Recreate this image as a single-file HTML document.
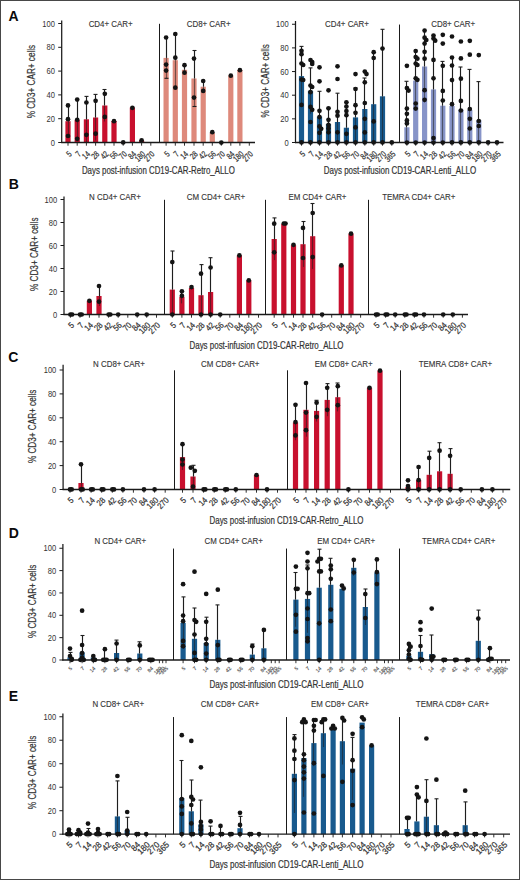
<!DOCTYPE html>
<html><head><meta charset="utf-8"><style>
html,body{margin:0;padding:0;background:#fff;}
#fig{position:relative;width:520px;height:880px;overflow:hidden;background:#fff;}
svg{display:block;font-family:"Liberation Sans", sans-serif;}
</style></head><body><div id="fig">
<svg width="520" height="880" viewBox="0 0 520 880">
<rect x="0" y="0" width="520" height="880" fill="#fff"/>
<g><rect x="65.4" y="121.2" width="5.2" height="21.3" fill="#c8102e"/>
<rect x="74.6" y="120" width="5.2" height="22.5" fill="#c8102e"/>
<rect x="83.8" y="119.3" width="5.2" height="23.2" fill="#c8102e"/>
<rect x="93" y="117.5" width="5.2" height="25" fill="#c8102e"/>
<rect x="102.2" y="105.5" width="5.2" height="37" fill="#c8102e"/>
<rect x="111.4" y="121" width="5.2" height="21.5" fill="#c8102e"/>
<rect x="129.8" y="107.5" width="5.2" height="35" fill="#c8102e"/>
<rect x="139" y="140.7" width="5.2" height="1.8" fill="#c8102e"/>
<rect x="163.5" y="57.9" width="5.2" height="84.6" fill="#de897b"/>
<rect x="172.7" y="60.2" width="5.2" height="82.3" fill="#de897b"/>
<rect x="181.9" y="69.8" width="5.2" height="72.7" fill="#de897b"/>
<rect x="191.4" y="78.5" width="5.2" height="64" fill="#de897b"/>
<rect x="200.6" y="86.7" width="5.2" height="55.8" fill="#de897b"/>
<rect x="209.7" y="133" width="5.2" height="9.5" fill="#de897b"/>
<rect x="228.2" y="75.5" width="5.2" height="67" fill="#de897b"/>
<rect x="237.3" y="70" width="5.2" height="72.5" fill="#de897b"/>
<rect x="298.9" y="76.1" width="5.2" height="66.4" fill="#185a8e"/>
<rect x="307.9" y="90.8" width="5.2" height="51.7" fill="#185a8e"/>
<rect x="316.9" y="116.6" width="5.2" height="25.9" fill="#185a8e"/>
<rect x="325.9" y="124" width="5.2" height="18.5" fill="#185a8e"/>
<rect x="334.9" y="122" width="5.2" height="20.5" fill="#185a8e"/>
<rect x="343.8" y="127.7" width="5.2" height="14.8" fill="#185a8e"/>
<rect x="352.9" y="117.4" width="5.2" height="25.1" fill="#185a8e"/>
<rect x="362.2" y="109" width="5.2" height="33.5" fill="#185a8e"/>
<rect x="371.1" y="104.2" width="5.2" height="38.3" fill="#185a8e"/>
<rect x="379.9" y="96.3" width="5.2" height="46.2" fill="#185a8e"/>
<rect x="404.3" y="127.3" width="5.2" height="15.2" fill="#8794c8"/>
<rect x="413.1" y="80.6" width="5.2" height="61.9" fill="#8794c8"/>
<rect x="422" y="66.5" width="5.2" height="76" fill="#8794c8"/>
<rect x="430.9" y="89.4" width="5.2" height="53.1" fill="#8794c8"/>
<rect x="440.2" y="105.7" width="5.2" height="36.8" fill="#8794c8"/>
<rect x="449.4" y="106" width="5.2" height="36.5" fill="#8794c8"/>
<rect x="458.3" y="109.5" width="5.2" height="33" fill="#8794c8"/>
<rect x="467.2" y="110" width="5.2" height="32.5" fill="#8794c8"/>
<rect x="476.2" y="120.2" width="5.2" height="22.3" fill="#8794c8"/>
<rect x="86.8" y="300.8" width="5.2" height="13.7" fill="#c8102e"/>
<rect x="96.4" y="296" width="5.2" height="18.5" fill="#c8102e"/>
<rect x="169.7" y="289.6" width="5.2" height="24.9" fill="#c8102e"/>
<rect x="179.3" y="296.7" width="5.2" height="17.8" fill="#c8102e"/>
<rect x="188.9" y="288" width="5.2" height="26.5" fill="#c8102e"/>
<rect x="198.4" y="295.2" width="5.2" height="19.3" fill="#c8102e"/>
<rect x="208" y="292" width="5.2" height="22.5" fill="#c8102e"/>
<rect x="236.8" y="255.4" width="5.2" height="59.1" fill="#c8102e"/>
<rect x="246.2" y="280.4" width="5.2" height="34.1" fill="#c8102e"/>
<rect x="271.6" y="239" width="5.2" height="75.5" fill="#c8102e"/>
<rect x="281.2" y="224" width="5.2" height="90.5" fill="#c8102e"/>
<rect x="290.9" y="245.2" width="5.2" height="69.3" fill="#c8102e"/>
<rect x="300.4" y="244.2" width="5.2" height="70.3" fill="#c8102e"/>
<rect x="310.1" y="236.2" width="5.2" height="78.3" fill="#c8102e"/>
<rect x="338.7" y="265.4" width="5.2" height="49.1" fill="#c8102e"/>
<rect x="348.4" y="233.7" width="5.2" height="80.8" fill="#c8102e"/>
<rect x="78.4" y="483" width="5.2" height="6.5" fill="#c8102e"/>
<rect x="179.9" y="457.1" width="5.2" height="32.4" fill="#c8102e"/>
<rect x="190.4" y="476.5" width="5.2" height="13" fill="#c8102e"/>
<rect x="253.9" y="475" width="5.2" height="14.5" fill="#c8102e"/>
<rect x="292.9" y="422.5" width="5.2" height="67" fill="#c8102e"/>
<rect x="303.4" y="409.8" width="5.2" height="79.7" fill="#c8102e"/>
<rect x="314" y="410.9" width="5.2" height="78.6" fill="#c8102e"/>
<rect x="324.6" y="399.9" width="5.2" height="89.6" fill="#c8102e"/>
<rect x="335.2" y="397.2" width="5.2" height="92.3" fill="#c8102e"/>
<rect x="366.9" y="387.8" width="5.2" height="101.7" fill="#c8102e"/>
<rect x="377.4" y="370.7" width="5.2" height="118.8" fill="#c8102e"/>
<rect x="405.4" y="487" width="5.2" height="2.5" fill="#c8102e"/>
<rect x="416" y="480.1" width="5.2" height="9.4" fill="#c8102e"/>
<rect x="426.6" y="474.8" width="5.2" height="14.7" fill="#c8102e"/>
<rect x="437" y="471.3" width="5.2" height="18.2" fill="#c8102e"/>
<rect x="447.5" y="473.8" width="5.2" height="15.7" fill="#c8102e"/>
<rect x="67.4" y="657.3" width="5.2" height="2.7" fill="#185a8e"/>
<rect x="79.5" y="652.4" width="5.2" height="7.6" fill="#185a8e"/>
<rect x="90.7" y="657.5" width="5.2" height="2.5" fill="#185a8e"/>
<rect x="102.3" y="658.5" width="5.2" height="1.5" fill="#185a8e"/>
<rect x="114" y="653" width="5.2" height="7" fill="#185a8e"/>
<rect x="137.2" y="653.5" width="5.2" height="6.5" fill="#185a8e"/>
<rect x="180.5" y="622.9" width="5.2" height="37.1" fill="#185a8e"/>
<rect x="191.9" y="638.8" width="5.2" height="21.2" fill="#185a8e"/>
<rect x="203.6" y="643" width="5.2" height="17" fill="#185a8e"/>
<rect x="215.2" y="639.8" width="5.2" height="20.2" fill="#185a8e"/>
<rect x="249.7" y="654.6" width="5.2" height="5.4" fill="#185a8e"/>
<rect x="261.3" y="648.3" width="5.2" height="11.7" fill="#185a8e"/>
<rect x="293.3" y="599.6" width="5.2" height="60.4" fill="#185a8e"/>
<rect x="304.9" y="598.9" width="5.2" height="61.1" fill="#185a8e"/>
<rect x="316.6" y="587.7" width="5.2" height="72.3" fill="#185a8e"/>
<rect x="328.2" y="584.8" width="5.2" height="75.2" fill="#185a8e"/>
<rect x="339.4" y="588.8" width="5.2" height="71.2" fill="#185a8e"/>
<rect x="351.2" y="567.8" width="5.2" height="92.2" fill="#185a8e"/>
<rect x="362.7" y="607" width="5.2" height="53" fill="#185a8e"/>
<rect x="374.3" y="572.5" width="5.2" height="87.5" fill="#185a8e"/>
<rect x="406.3" y="655.6" width="5.2" height="4.4" fill="#185a8e"/>
<rect x="417.9" y="651.8" width="5.2" height="8.2" fill="#185a8e"/>
<rect x="429.1" y="654.1" width="5.2" height="5.9" fill="#185a8e"/>
<rect x="475.7" y="640.8" width="5.2" height="19.2" fill="#185a8e"/>
<rect x="487.3" y="657.7" width="5.2" height="2.3" fill="#185a8e"/>
<rect x="66.4" y="833" width="5.2" height="1.2" fill="#185a8e"/>
<rect x="75.9" y="833" width="5.2" height="1.2" fill="#185a8e"/>
<rect x="85.4" y="832" width="5.2" height="2.2" fill="#185a8e"/>
<rect x="95.4" y="833" width="5.2" height="1.2" fill="#185a8e"/>
<rect x="114.8" y="816.4" width="5.2" height="17.8" fill="#185a8e"/>
<rect x="124.6" y="830.6" width="5.2" height="3.6" fill="#185a8e"/>
<rect x="179.2" y="798" width="5.2" height="36.2" fill="#185a8e"/>
<rect x="188.7" y="811.3" width="5.2" height="22.9" fill="#185a8e"/>
<rect x="198.3" y="824.4" width="5.2" height="9.8" fill="#185a8e"/>
<rect x="208" y="833" width="5.2" height="1.2" fill="#185a8e"/>
<rect x="237.4" y="828.2" width="5.2" height="6" fill="#185a8e"/>
<rect x="291.8" y="773.8" width="5.2" height="60.4" fill="#185a8e"/>
<rect x="301.3" y="758.1" width="5.2" height="76.1" fill="#185a8e"/>
<rect x="311.3" y="743.1" width="5.2" height="91.1" fill="#185a8e"/>
<rect x="320.8" y="733.2" width="5.2" height="101" fill="#185a8e"/>
<rect x="330.5" y="728.9" width="5.2" height="105.3" fill="#185a8e"/>
<rect x="339.8" y="741.2" width="5.2" height="93" fill="#185a8e"/>
<rect x="350" y="768.7" width="5.2" height="65.5" fill="#185a8e"/>
<rect x="359.5" y="722.6" width="5.2" height="111.6" fill="#185a8e"/>
<rect x="369" y="745.4" width="5.2" height="88.8" fill="#185a8e"/>
<rect x="404.4" y="829" width="5.2" height="5.2" fill="#185a8e"/>
<rect x="414.3" y="821.4" width="5.2" height="12.8" fill="#185a8e"/>
<rect x="423.8" y="816.7" width="5.2" height="17.5" fill="#185a8e"/>
<rect x="433.8" y="825.2" width="5.2" height="9" fill="#185a8e"/>
<rect x="462.6" y="825.2" width="5.2" height="9" fill="#185a8e"/></g>
<g><line x1="68.5" y1="105.4" x2="68.5" y2="121.2" stroke="#1e1e1e" stroke-width="1.15"/>
<line x1="68.5" y1="121.2" x2="68.5" y2="137" stroke="#1e1e1e" stroke-opacity="0.55" stroke-width="1.15"/>
<line x1="77.5" y1="99.6" x2="77.5" y2="120" stroke="#1e1e1e" stroke-width="1.15"/>
<line x1="77.5" y1="120" x2="77.5" y2="140.4" stroke="#1e1e1e" stroke-opacity="0.55" stroke-width="1.15"/>
<line x1="86.5" y1="96.4" x2="86.5" y2="119.3" stroke="#1e1e1e" stroke-width="1.15"/>
<line x1="86.5" y1="119.3" x2="86.5" y2="142.2" stroke="#1e1e1e" stroke-opacity="0.55" stroke-width="1.15"/>
<line x1="84.5" y1="96.4" x2="88.5" y2="96.4" stroke="#1e1e1e" stroke-width="1.1"/>
<line x1="95.5" y1="94.4" x2="95.5" y2="117.5" stroke="#1e1e1e" stroke-width="1.15"/>
<line x1="95.5" y1="117.5" x2="95.5" y2="140.6" stroke="#1e1e1e" stroke-opacity="0.55" stroke-width="1.15"/>
<line x1="93.5" y1="94.4" x2="97.5" y2="94.4" stroke="#1e1e1e" stroke-width="1.1"/>
<line x1="104.5" y1="89.5" x2="104.5" y2="105.5" stroke="#1e1e1e" stroke-width="1.15"/>
<line x1="104.5" y1="105.5" x2="104.5" y2="121.5" stroke="#1e1e1e" stroke-opacity="0.55" stroke-width="1.15"/>
<line x1="102.5" y1="89.5" x2="106.5" y2="89.5" stroke="#1e1e1e" stroke-width="1.1"/>
<line x1="166.5" y1="37.5" x2="166.5" y2="57.9" stroke="#1e1e1e" stroke-width="1.15"/>
<line x1="166.5" y1="57.9" x2="166.5" y2="78.3" stroke="#1e1e1e" stroke-opacity="0.55" stroke-width="1.15"/>
<line x1="164.5" y1="78.3" x2="168.5" y2="78.3" stroke="#1e1e1e" stroke-width="1.1"/>
<line x1="175.5" y1="34" x2="175.5" y2="60.2" stroke="#1e1e1e" stroke-width="1.15"/>
<line x1="175.5" y1="60.2" x2="175.5" y2="86.4" stroke="#1e1e1e" stroke-opacity="0.55" stroke-width="1.15"/>
<line x1="184.5" y1="65.2" x2="184.5" y2="69.8" stroke="#1e1e1e" stroke-width="1.15"/>
<line x1="184.5" y1="69.8" x2="184.5" y2="74.4" stroke="#1e1e1e" stroke-opacity="0.55" stroke-width="1.15"/>
<line x1="194.5" y1="50.5" x2="194.5" y2="78.5" stroke="#1e1e1e" stroke-width="1.15"/>
<line x1="194.5" y1="78.5" x2="194.5" y2="106.5" stroke="#1e1e1e" stroke-opacity="0.55" stroke-width="1.15"/>
<line x1="192.5" y1="50.5" x2="196.5" y2="50.5" stroke="#1e1e1e" stroke-width="1.1"/>
<line x1="192.5" y1="106.5" x2="196.5" y2="106.5" stroke="#1e1e1e" stroke-width="1.1"/>
<line x1="203.5" y1="81" x2="203.5" y2="86.7" stroke="#1e1e1e" stroke-width="1.15"/>
<line x1="203.5" y1="86.7" x2="203.5" y2="92.4" stroke="#1e1e1e" stroke-opacity="0.55" stroke-width="1.15"/>
<line x1="301.5" y1="46.4" x2="301.5" y2="76.1" stroke="#1e1e1e" stroke-width="1.15"/>
<line x1="301.5" y1="76.1" x2="301.5" y2="105.8" stroke="#1e1e1e" stroke-opacity="0.55" stroke-width="1.15"/>
<line x1="299.5" y1="46.4" x2="303.5" y2="46.4" stroke="#1e1e1e" stroke-width="1.1"/>
<line x1="310.5" y1="67.9" x2="310.5" y2="90.8" stroke="#1e1e1e" stroke-width="1.15"/>
<line x1="310.5" y1="90.8" x2="310.5" y2="113.7" stroke="#1e1e1e" stroke-opacity="0.55" stroke-width="1.15"/>
<line x1="308.5" y1="67.9" x2="312.5" y2="67.9" stroke="#1e1e1e" stroke-width="1.1"/>
<line x1="319.5" y1="91.3" x2="319.5" y2="116.6" stroke="#1e1e1e" stroke-width="1.15"/>
<line x1="319.5" y1="116.6" x2="319.5" y2="141.9" stroke="#1e1e1e" stroke-opacity="0.55" stroke-width="1.15"/>
<line x1="317.5" y1="91.3" x2="321.5" y2="91.3" stroke="#1e1e1e" stroke-width="1.1"/>
<line x1="328.5" y1="108" x2="328.5" y2="124" stroke="#1e1e1e" stroke-width="1.15"/>
<line x1="328.5" y1="124" x2="328.5" y2="140" stroke="#1e1e1e" stroke-opacity="0.55" stroke-width="1.15"/>
<line x1="326.5" y1="108" x2="330.5" y2="108" stroke="#1e1e1e" stroke-width="1.1"/>
<line x1="337.5" y1="93.2" x2="337.5" y2="122" stroke="#1e1e1e" stroke-width="1.15"/>
<line x1="337.5" y1="122" x2="337.5" y2="142.5" stroke="#1e1e1e" stroke-opacity="0.55" stroke-width="1.15"/>
<line x1="335.5" y1="93.2" x2="339.5" y2="93.2" stroke="#1e1e1e" stroke-width="1.1"/>
<line x1="346.5" y1="102.3" x2="346.5" y2="127.7" stroke="#1e1e1e" stroke-width="1.15"/>
<line x1="346.5" y1="127.7" x2="346.5" y2="142.5" stroke="#1e1e1e" stroke-opacity="0.55" stroke-width="1.15"/>
<line x1="355.5" y1="88" x2="355.5" y2="117.4" stroke="#1e1e1e" stroke-width="1.15"/>
<line x1="355.5" y1="117.4" x2="355.5" y2="142.5" stroke="#1e1e1e" stroke-opacity="0.55" stroke-width="1.15"/>
<line x1="353.5" y1="88" x2="357.5" y2="88" stroke="#1e1e1e" stroke-width="1.1"/>
<line x1="364.5" y1="78" x2="364.5" y2="109" stroke="#1e1e1e" stroke-width="1.15"/>
<line x1="364.5" y1="109" x2="364.5" y2="140" stroke="#1e1e1e" stroke-opacity="0.55" stroke-width="1.15"/>
<line x1="362.5" y1="78" x2="366.5" y2="78" stroke="#1e1e1e" stroke-width="1.1"/>
<line x1="373.5" y1="52.2" x2="373.5" y2="104.2" stroke="#1e1e1e" stroke-width="1.15"/>
<line x1="373.5" y1="104.2" x2="373.5" y2="142.5" stroke="#1e1e1e" stroke-opacity="0.55" stroke-width="1.15"/>
<line x1="382.5" y1="29.3" x2="382.5" y2="96.3" stroke="#1e1e1e" stroke-width="1.15"/>
<line x1="382.5" y1="96.3" x2="382.5" y2="142.5" stroke="#1e1e1e" stroke-opacity="0.55" stroke-width="1.15"/>
<line x1="380.5" y1="29.3" x2="384.5" y2="29.3" stroke="#1e1e1e" stroke-width="1.1"/>
<line x1="406.5" y1="81.3" x2="406.5" y2="127.3" stroke="#1e1e1e" stroke-width="1.15"/>
<line x1="406.5" y1="127.3" x2="406.5" y2="142.5" stroke="#1e1e1e" stroke-opacity="0.55" stroke-width="1.15"/>
<line x1="404.5" y1="81.3" x2="408.5" y2="81.3" stroke="#1e1e1e" stroke-width="1.1"/>
<line x1="415.5" y1="51" x2="415.5" y2="80.6" stroke="#1e1e1e" stroke-width="1.15"/>
<line x1="415.5" y1="80.6" x2="415.5" y2="110.2" stroke="#1e1e1e" stroke-opacity="0.55" stroke-width="1.15"/>
<line x1="424.5" y1="30.6" x2="424.5" y2="66.5" stroke="#1e1e1e" stroke-width="1.15"/>
<line x1="424.5" y1="66.5" x2="424.5" y2="102.4" stroke="#1e1e1e" stroke-opacity="0.55" stroke-width="1.15"/>
<line x1="433.5" y1="35.5" x2="433.5" y2="89.4" stroke="#1e1e1e" stroke-width="1.15"/>
<line x1="433.5" y1="89.4" x2="433.5" y2="142.5" stroke="#1e1e1e" stroke-opacity="0.55" stroke-width="1.15"/>
<line x1="442.5" y1="61.4" x2="442.5" y2="105.7" stroke="#1e1e1e" stroke-width="1.15"/>
<line x1="442.5" y1="105.7" x2="442.5" y2="142.5" stroke="#1e1e1e" stroke-opacity="0.55" stroke-width="1.15"/>
<line x1="440.5" y1="61.4" x2="444.5" y2="61.4" stroke="#1e1e1e" stroke-width="1.1"/>
<line x1="452.5" y1="57.5" x2="452.5" y2="106" stroke="#1e1e1e" stroke-width="1.15"/>
<line x1="452.5" y1="106" x2="452.5" y2="142.5" stroke="#1e1e1e" stroke-opacity="0.55" stroke-width="1.15"/>
<line x1="460.5" y1="67" x2="460.5" y2="109.5" stroke="#1e1e1e" stroke-width="1.15"/>
<line x1="460.5" y1="109.5" x2="460.5" y2="142.5" stroke="#1e1e1e" stroke-opacity="0.55" stroke-width="1.15"/>
<line x1="458.5" y1="67" x2="462.5" y2="67" stroke="#1e1e1e" stroke-width="1.1"/>
<line x1="469.5" y1="69.4" x2="469.5" y2="110" stroke="#1e1e1e" stroke-width="1.15"/>
<line x1="469.5" y1="110" x2="469.5" y2="142.5" stroke="#1e1e1e" stroke-opacity="0.55" stroke-width="1.15"/>
<line x1="467.5" y1="69.4" x2="471.5" y2="69.4" stroke="#1e1e1e" stroke-width="1.1"/>
<line x1="478.5" y1="81.6" x2="478.5" y2="120.2" stroke="#1e1e1e" stroke-width="1.15"/>
<line x1="478.5" y1="120.2" x2="478.5" y2="142.5" stroke="#1e1e1e" stroke-opacity="0.55" stroke-width="1.15"/>
<line x1="476.5" y1="81.6" x2="480.5" y2="81.6" stroke="#1e1e1e" stroke-width="1.1"/>
<line x1="99.5" y1="286" x2="99.5" y2="296" stroke="#1e1e1e" stroke-width="1.15"/>
<line x1="99.5" y1="296" x2="99.5" y2="306" stroke="#1e1e1e" stroke-opacity="0.55" stroke-width="1.15"/>
<line x1="172.5" y1="251" x2="172.5" y2="289.6" stroke="#1e1e1e" stroke-width="1.15"/>
<line x1="172.5" y1="289.6" x2="172.5" y2="314.5" stroke="#1e1e1e" stroke-opacity="0.55" stroke-width="1.15"/>
<line x1="170.5" y1="251" x2="174.5" y2="251" stroke="#1e1e1e" stroke-width="1.1"/>
<line x1="181.5" y1="290" x2="181.5" y2="296.7" stroke="#1e1e1e" stroke-width="1.15"/>
<line x1="181.5" y1="296.7" x2="181.5" y2="303.4" stroke="#1e1e1e" stroke-opacity="0.55" stroke-width="1.15"/>
<line x1="201.5" y1="264.6" x2="201.5" y2="295.2" stroke="#1e1e1e" stroke-width="1.15"/>
<line x1="201.5" y1="295.2" x2="201.5" y2="314.5" stroke="#1e1e1e" stroke-opacity="0.55" stroke-width="1.15"/>
<line x1="199.5" y1="264.6" x2="203.5" y2="264.6" stroke="#1e1e1e" stroke-width="1.1"/>
<line x1="210.5" y1="257.7" x2="210.5" y2="292" stroke="#1e1e1e" stroke-width="1.15"/>
<line x1="210.5" y1="292" x2="210.5" y2="314.5" stroke="#1e1e1e" stroke-opacity="0.55" stroke-width="1.15"/>
<line x1="208.5" y1="257.7" x2="212.5" y2="257.7" stroke="#1e1e1e" stroke-width="1.1"/>
<line x1="274.5" y1="217.9" x2="274.5" y2="239" stroke="#1e1e1e" stroke-width="1.15"/>
<line x1="274.5" y1="239" x2="274.5" y2="260.1" stroke="#1e1e1e" stroke-opacity="0.55" stroke-width="1.15"/>
<line x1="272.5" y1="217.9" x2="276.5" y2="217.9" stroke="#1e1e1e" stroke-width="1.1"/>
<line x1="303.5" y1="221.5" x2="303.5" y2="244.2" stroke="#1e1e1e" stroke-width="1.15"/>
<line x1="303.5" y1="244.2" x2="303.5" y2="266.9" stroke="#1e1e1e" stroke-opacity="0.55" stroke-width="1.15"/>
<line x1="301.5" y1="221.5" x2="305.5" y2="221.5" stroke="#1e1e1e" stroke-width="1.1"/>
<line x1="312.5" y1="203.5" x2="312.5" y2="236.2" stroke="#1e1e1e" stroke-width="1.15"/>
<line x1="312.5" y1="236.2" x2="312.5" y2="268.9" stroke="#1e1e1e" stroke-opacity="0.55" stroke-width="1.15"/>
<line x1="310.5" y1="203.5" x2="314.5" y2="203.5" stroke="#1e1e1e" stroke-width="1.1"/>
<line x1="81.5" y1="464.3" x2="81.5" y2="483" stroke="#1e1e1e" stroke-width="1.15"/>
<line x1="81.5" y1="483" x2="81.5" y2="489.5" stroke="#1e1e1e" stroke-opacity="0.55" stroke-width="1.15"/>
<line x1="182.5" y1="444.2" x2="182.5" y2="457.1" stroke="#1e1e1e" stroke-width="1.15"/>
<line x1="182.5" y1="457.1" x2="182.5" y2="470" stroke="#1e1e1e" stroke-opacity="0.55" stroke-width="1.15"/>
<line x1="193.5" y1="465.3" x2="193.5" y2="476.5" stroke="#1e1e1e" stroke-width="1.15"/>
<line x1="193.5" y1="476.5" x2="193.5" y2="487.7" stroke="#1e1e1e" stroke-opacity="0.55" stroke-width="1.15"/>
<line x1="191.5" y1="465.3" x2="195.5" y2="465.3" stroke="#1e1e1e" stroke-width="1.1"/>
<line x1="295.5" y1="404.8" x2="295.5" y2="422.5" stroke="#1e1e1e" stroke-width="1.15"/>
<line x1="295.5" y1="422.5" x2="295.5" y2="440.2" stroke="#1e1e1e" stroke-opacity="0.55" stroke-width="1.15"/>
<line x1="306.5" y1="383" x2="306.5" y2="409.8" stroke="#1e1e1e" stroke-width="1.15"/>
<line x1="306.5" y1="409.8" x2="306.5" y2="436.6" stroke="#1e1e1e" stroke-opacity="0.55" stroke-width="1.15"/>
<line x1="316.5" y1="400.3" x2="316.5" y2="410.9" stroke="#1e1e1e" stroke-width="1.15"/>
<line x1="316.5" y1="410.9" x2="316.5" y2="421.5" stroke="#1e1e1e" stroke-opacity="0.55" stroke-width="1.15"/>
<line x1="314.5" y1="400.3" x2="318.5" y2="400.3" stroke="#1e1e1e" stroke-width="1.1"/>
<line x1="327.5" y1="383.6" x2="327.5" y2="399.9" stroke="#1e1e1e" stroke-width="1.15"/>
<line x1="327.5" y1="399.9" x2="327.5" y2="416.2" stroke="#1e1e1e" stroke-opacity="0.55" stroke-width="1.15"/>
<line x1="325.5" y1="383.6" x2="329.5" y2="383.6" stroke="#1e1e1e" stroke-width="1.1"/>
<line x1="337.5" y1="383" x2="337.5" y2="397.2" stroke="#1e1e1e" stroke-width="1.15"/>
<line x1="337.5" y1="397.2" x2="337.5" y2="411.4" stroke="#1e1e1e" stroke-opacity="0.55" stroke-width="1.15"/>
<line x1="335.5" y1="383" x2="339.5" y2="383" stroke="#1e1e1e" stroke-width="1.1"/>
<line x1="418.5" y1="467" x2="418.5" y2="480.1" stroke="#1e1e1e" stroke-width="1.15"/>
<line x1="418.5" y1="480.1" x2="418.5" y2="489.5" stroke="#1e1e1e" stroke-opacity="0.55" stroke-width="1.15"/>
<line x1="429.5" y1="451.2" x2="429.5" y2="474.8" stroke="#1e1e1e" stroke-width="1.15"/>
<line x1="429.5" y1="474.8" x2="429.5" y2="489.5" stroke="#1e1e1e" stroke-opacity="0.55" stroke-width="1.15"/>
<line x1="427.5" y1="451.2" x2="431.5" y2="451.2" stroke="#1e1e1e" stroke-width="1.1"/>
<line x1="439.5" y1="442.7" x2="439.5" y2="471.3" stroke="#1e1e1e" stroke-width="1.15"/>
<line x1="439.5" y1="471.3" x2="439.5" y2="489.5" stroke="#1e1e1e" stroke-opacity="0.55" stroke-width="1.15"/>
<line x1="437.5" y1="442.7" x2="441.5" y2="442.7" stroke="#1e1e1e" stroke-width="1.1"/>
<line x1="450.5" y1="448.6" x2="450.5" y2="473.8" stroke="#1e1e1e" stroke-width="1.15"/>
<line x1="450.5" y1="473.8" x2="450.5" y2="489.5" stroke="#1e1e1e" stroke-opacity="0.55" stroke-width="1.15"/>
<line x1="448.5" y1="448.6" x2="452.5" y2="448.6" stroke="#1e1e1e" stroke-width="1.1"/>
<line x1="70.5" y1="652.4" x2="70.5" y2="657.3" stroke="#1e1e1e" stroke-width="1.15"/>
<line x1="68.5" y1="652.4" x2="72.5" y2="652.4" stroke="#1e1e1e" stroke-width="1.1"/>
<line x1="82.5" y1="635.5" x2="82.5" y2="652.4" stroke="#1e1e1e" stroke-width="1.15"/>
<line x1="82.5" y1="652.4" x2="82.5" y2="660" stroke="#1e1e1e" stroke-opacity="0.55" stroke-width="1.15"/>
<line x1="80.5" y1="635.5" x2="84.5" y2="635.5" stroke="#1e1e1e" stroke-width="1.1"/>
<line x1="104.5" y1="649.2" x2="104.5" y2="658.5" stroke="#1e1e1e" stroke-width="1.15"/>
<line x1="116.5" y1="640.1" x2="116.5" y2="653" stroke="#1e1e1e" stroke-width="1.15"/>
<line x1="116.5" y1="653" x2="116.5" y2="660" stroke="#1e1e1e" stroke-opacity="0.55" stroke-width="1.15"/>
<line x1="114.5" y1="640.1" x2="118.5" y2="640.1" stroke="#1e1e1e" stroke-width="1.1"/>
<line x1="139.5" y1="641.8" x2="139.5" y2="653.5" stroke="#1e1e1e" stroke-width="1.15"/>
<line x1="139.5" y1="653.5" x2="139.5" y2="660" stroke="#1e1e1e" stroke-opacity="0.55" stroke-width="1.15"/>
<line x1="137.5" y1="641.8" x2="141.5" y2="641.8" stroke="#1e1e1e" stroke-width="1.1"/>
<line x1="183.5" y1="596.9" x2="183.5" y2="622.9" stroke="#1e1e1e" stroke-width="1.15"/>
<line x1="183.5" y1="622.9" x2="183.5" y2="648.9" stroke="#1e1e1e" stroke-opacity="0.55" stroke-width="1.15"/>
<line x1="181.5" y1="596.9" x2="185.5" y2="596.9" stroke="#1e1e1e" stroke-width="1.1"/>
<line x1="194.5" y1="608" x2="194.5" y2="638.8" stroke="#1e1e1e" stroke-width="1.15"/>
<line x1="194.5" y1="638.8" x2="194.5" y2="660" stroke="#1e1e1e" stroke-opacity="0.55" stroke-width="1.15"/>
<line x1="192.5" y1="608" x2="196.5" y2="608" stroke="#1e1e1e" stroke-width="1.1"/>
<line x1="206.5" y1="617.2" x2="206.5" y2="643" stroke="#1e1e1e" stroke-width="1.15"/>
<line x1="206.5" y1="643" x2="206.5" y2="660" stroke="#1e1e1e" stroke-opacity="0.55" stroke-width="1.15"/>
<line x1="204.5" y1="617.2" x2="208.5" y2="617.2" stroke="#1e1e1e" stroke-width="1.1"/>
<line x1="217.5" y1="604.9" x2="217.5" y2="639.8" stroke="#1e1e1e" stroke-width="1.15"/>
<line x1="217.5" y1="639.8" x2="217.5" y2="660" stroke="#1e1e1e" stroke-opacity="0.55" stroke-width="1.15"/>
<line x1="215.5" y1="604.9" x2="219.5" y2="604.9" stroke="#1e1e1e" stroke-width="1.1"/>
<line x1="252.5" y1="644" x2="252.5" y2="654.6" stroke="#1e1e1e" stroke-width="1.15"/>
<line x1="252.5" y1="654.6" x2="252.5" y2="660" stroke="#1e1e1e" stroke-opacity="0.55" stroke-width="1.15"/>
<line x1="250.5" y1="644" x2="254.5" y2="644" stroke="#1e1e1e" stroke-width="1.1"/>
<line x1="263.5" y1="629.9" x2="263.5" y2="648.3" stroke="#1e1e1e" stroke-width="1.15"/>
<line x1="263.5" y1="648.3" x2="263.5" y2="660" stroke="#1e1e1e" stroke-opacity="0.55" stroke-width="1.15"/>
<line x1="295.5" y1="572.5" x2="295.5" y2="599.6" stroke="#1e1e1e" stroke-width="1.15"/>
<line x1="295.5" y1="599.6" x2="295.5" y2="626.7" stroke="#1e1e1e" stroke-opacity="0.55" stroke-width="1.15"/>
<line x1="293.5" y1="572.5" x2="297.5" y2="572.5" stroke="#1e1e1e" stroke-width="1.1"/>
<line x1="307.5" y1="565" x2="307.5" y2="598.9" stroke="#1e1e1e" stroke-width="1.15"/>
<line x1="307.5" y1="598.9" x2="307.5" y2="632.8" stroke="#1e1e1e" stroke-opacity="0.55" stroke-width="1.15"/>
<line x1="305.5" y1="565" x2="309.5" y2="565" stroke="#1e1e1e" stroke-width="1.1"/>
<line x1="319.5" y1="549.2" x2="319.5" y2="587.7" stroke="#1e1e1e" stroke-width="1.15"/>
<line x1="319.5" y1="587.7" x2="319.5" y2="626.2" stroke="#1e1e1e" stroke-opacity="0.55" stroke-width="1.15"/>
<line x1="317.5" y1="549.2" x2="321.5" y2="549.2" stroke="#1e1e1e" stroke-width="1.1"/>
<line x1="330.5" y1="558.3" x2="330.5" y2="584.8" stroke="#1e1e1e" stroke-width="1.15"/>
<line x1="330.5" y1="584.8" x2="330.5" y2="611.3" stroke="#1e1e1e" stroke-opacity="0.55" stroke-width="1.15"/>
<line x1="328.5" y1="558.3" x2="332.5" y2="558.3" stroke="#1e1e1e" stroke-width="1.1"/>
<line x1="353.5" y1="559.8" x2="353.5" y2="567.8" stroke="#1e1e1e" stroke-width="1.15"/>
<line x1="353.5" y1="567.8" x2="353.5" y2="575.8" stroke="#1e1e1e" stroke-opacity="0.55" stroke-width="1.15"/>
<line x1="365.5" y1="589" x2="365.5" y2="607" stroke="#1e1e1e" stroke-width="1.15"/>
<line x1="365.5" y1="607" x2="365.5" y2="625" stroke="#1e1e1e" stroke-opacity="0.55" stroke-width="1.15"/>
<line x1="363.5" y1="589" x2="367.5" y2="589" stroke="#1e1e1e" stroke-width="1.1"/>
<line x1="376.5" y1="559.4" x2="376.5" y2="572.5" stroke="#1e1e1e" stroke-width="1.15"/>
<line x1="376.5" y1="572.5" x2="376.5" y2="585.6" stroke="#1e1e1e" stroke-opacity="0.55" stroke-width="1.15"/>
<line x1="408.5" y1="642.9" x2="408.5" y2="655.6" stroke="#1e1e1e" stroke-width="1.15"/>
<line x1="408.5" y1="655.6" x2="408.5" y2="660" stroke="#1e1e1e" stroke-opacity="0.55" stroke-width="1.15"/>
<line x1="420.5" y1="635.5" x2="420.5" y2="651.8" stroke="#1e1e1e" stroke-width="1.15"/>
<line x1="420.5" y1="651.8" x2="420.5" y2="660" stroke="#1e1e1e" stroke-opacity="0.55" stroke-width="1.15"/>
<line x1="418.5" y1="635.5" x2="422.5" y2="635.5" stroke="#1e1e1e" stroke-width="1.1"/>
<line x1="431.5" y1="635" x2="431.5" y2="654.1" stroke="#1e1e1e" stroke-width="1.15"/>
<line x1="431.5" y1="654.1" x2="431.5" y2="660" stroke="#1e1e1e" stroke-opacity="0.55" stroke-width="1.15"/>
<line x1="429.5" y1="635" x2="433.5" y2="635" stroke="#1e1e1e" stroke-width="1.1"/>
<line x1="478.5" y1="610.1" x2="478.5" y2="640.8" stroke="#1e1e1e" stroke-width="1.15"/>
<line x1="478.5" y1="640.8" x2="478.5" y2="660" stroke="#1e1e1e" stroke-opacity="0.55" stroke-width="1.15"/>
<line x1="476.5" y1="610.1" x2="480.5" y2="610.1" stroke="#1e1e1e" stroke-width="1.1"/>
<line x1="489.5" y1="648.2" x2="489.5" y2="657.7" stroke="#1e1e1e" stroke-width="1.15"/>
<line x1="88.5" y1="828.5" x2="88.5" y2="832" stroke="#1e1e1e" stroke-width="1.15"/>
<line x1="86.5" y1="828.5" x2="90.5" y2="828.5" stroke="#1e1e1e" stroke-width="1.1"/>
<line x1="117.5" y1="780.9" x2="117.5" y2="816.4" stroke="#1e1e1e" stroke-width="1.15"/>
<line x1="117.5" y1="816.4" x2="117.5" y2="834.2" stroke="#1e1e1e" stroke-opacity="0.55" stroke-width="1.15"/>
<line x1="115.5" y1="780.9" x2="119.5" y2="780.9" stroke="#1e1e1e" stroke-width="1.1"/>
<line x1="127.5" y1="817.3" x2="127.5" y2="830.6" stroke="#1e1e1e" stroke-width="1.15"/>
<line x1="127.5" y1="830.6" x2="127.5" y2="834.2" stroke="#1e1e1e" stroke-opacity="0.55" stroke-width="1.15"/>
<line x1="125.5" y1="817.3" x2="129.5" y2="817.3" stroke="#1e1e1e" stroke-width="1.1"/>
<line x1="181.5" y1="760.5" x2="181.5" y2="798" stroke="#1e1e1e" stroke-width="1.15"/>
<line x1="181.5" y1="798" x2="181.5" y2="834.2" stroke="#1e1e1e" stroke-opacity="0.55" stroke-width="1.15"/>
<line x1="179.5" y1="760.5" x2="183.5" y2="760.5" stroke="#1e1e1e" stroke-width="1.1"/>
<line x1="191.5" y1="780" x2="191.5" y2="811.3" stroke="#1e1e1e" stroke-width="1.15"/>
<line x1="191.5" y1="811.3" x2="191.5" y2="834.2" stroke="#1e1e1e" stroke-opacity="0.55" stroke-width="1.15"/>
<line x1="189.5" y1="780" x2="193.5" y2="780" stroke="#1e1e1e" stroke-width="1.1"/>
<line x1="200.5" y1="800.1" x2="200.5" y2="824.4" stroke="#1e1e1e" stroke-width="1.15"/>
<line x1="200.5" y1="824.4" x2="200.5" y2="834.2" stroke="#1e1e1e" stroke-opacity="0.55" stroke-width="1.15"/>
<line x1="198.5" y1="800.1" x2="202.5" y2="800.1" stroke="#1e1e1e" stroke-width="1.1"/>
<line x1="210.5" y1="826.1" x2="210.5" y2="833" stroke="#1e1e1e" stroke-width="1.15"/>
<line x1="208.5" y1="826.1" x2="212.5" y2="826.1" stroke="#1e1e1e" stroke-width="1.1"/>
<line x1="220.5" y1="825.9" x2="220.5" y2="834.2" stroke="#1e1e1e" stroke-width="1.15"/>
<line x1="240.5" y1="816.4" x2="240.5" y2="828.2" stroke="#1e1e1e" stroke-width="1.15"/>
<line x1="240.5" y1="828.2" x2="240.5" y2="834.2" stroke="#1e1e1e" stroke-opacity="0.55" stroke-width="1.15"/>
<line x1="238.5" y1="816.4" x2="242.5" y2="816.4" stroke="#1e1e1e" stroke-width="1.1"/>
<line x1="294.5" y1="734.6" x2="294.5" y2="773.8" stroke="#1e1e1e" stroke-width="1.15"/>
<line x1="294.5" y1="773.8" x2="294.5" y2="813" stroke="#1e1e1e" stroke-opacity="0.55" stroke-width="1.15"/>
<line x1="292.5" y1="734.6" x2="296.5" y2="734.6" stroke="#1e1e1e" stroke-width="1.1"/>
<line x1="303.5" y1="719.4" x2="303.5" y2="758.1" stroke="#1e1e1e" stroke-width="1.15"/>
<line x1="303.5" y1="758.1" x2="303.5" y2="796.8" stroke="#1e1e1e" stroke-opacity="0.55" stroke-width="1.15"/>
<line x1="313.5" y1="720" x2="313.5" y2="743.1" stroke="#1e1e1e" stroke-width="1.15"/>
<line x1="313.5" y1="743.1" x2="313.5" y2="766.2" stroke="#1e1e1e" stroke-opacity="0.55" stroke-width="1.15"/>
<line x1="323.5" y1="719.4" x2="323.5" y2="733.2" stroke="#1e1e1e" stroke-width="1.15"/>
<line x1="323.5" y1="733.2" x2="323.5" y2="747" stroke="#1e1e1e" stroke-opacity="0.55" stroke-width="1.15"/>
<line x1="342.5" y1="717.9" x2="342.5" y2="741.2" stroke="#1e1e1e" stroke-width="1.15"/>
<line x1="342.5" y1="741.2" x2="342.5" y2="764.5" stroke="#1e1e1e" stroke-opacity="0.55" stroke-width="1.15"/>
<line x1="352.5" y1="737.4" x2="352.5" y2="768.7" stroke="#1e1e1e" stroke-width="1.15"/>
<line x1="352.5" y1="768.7" x2="352.5" y2="800" stroke="#1e1e1e" stroke-opacity="0.55" stroke-width="1.15"/>
<line x1="350.5" y1="737.4" x2="354.5" y2="737.4" stroke="#1e1e1e" stroke-width="1.1"/>
<line x1="407.5" y1="817.8" x2="407.5" y2="829" stroke="#1e1e1e" stroke-width="1.15"/>
<line x1="416.5" y1="794.5" x2="416.5" y2="821.4" stroke="#1e1e1e" stroke-width="1.15"/>
<line x1="426.5" y1="779.7" x2="426.5" y2="816.7" stroke="#1e1e1e" stroke-width="1.15"/>
<line x1="426.5" y1="816.7" x2="426.5" y2="834.2" stroke="#1e1e1e" stroke-opacity="0.55" stroke-width="1.15"/>
<line x1="424.5" y1="779.7" x2="428.5" y2="779.7" stroke="#1e1e1e" stroke-width="1.1"/>
<line x1="436.5" y1="798.8" x2="436.5" y2="825.2" stroke="#1e1e1e" stroke-width="1.15"/>
<line x1="436.5" y1="825.2" x2="436.5" y2="834.2" stroke="#1e1e1e" stroke-opacity="0.55" stroke-width="1.15"/>
<line x1="434.5" y1="798.8" x2="438.5" y2="798.8" stroke="#1e1e1e" stroke-width="1.1"/>
<line x1="465.5" y1="801.9" x2="465.5" y2="825.2" stroke="#1e1e1e" stroke-width="1.15"/>
<line x1="465.5" y1="825.2" x2="465.5" y2="834.2" stroke="#1e1e1e" stroke-opacity="0.55" stroke-width="1.15"/>
<line x1="463.5" y1="801.9" x2="467.5" y2="801.9" stroke="#1e1e1e" stroke-width="1.1"/></g>
<g><line x1="68" y1="142.5" x2="68" y2="145.7" stroke="#1a1a1a" stroke-width="0.9"/>
<line x1="77.2" y1="142.5" x2="77.2" y2="145.7" stroke="#1a1a1a" stroke-width="0.9"/>
<line x1="86.4" y1="142.5" x2="86.4" y2="145.7" stroke="#1a1a1a" stroke-width="0.9"/>
<line x1="95.6" y1="142.5" x2="95.6" y2="145.7" stroke="#1a1a1a" stroke-width="0.9"/>
<line x1="104.8" y1="142.5" x2="104.8" y2="145.7" stroke="#1a1a1a" stroke-width="0.9"/>
<line x1="114" y1="142.5" x2="114" y2="145.7" stroke="#1a1a1a" stroke-width="0.9"/>
<line x1="123.2" y1="142.5" x2="123.2" y2="145.7" stroke="#1a1a1a" stroke-width="0.9"/>
<line x1="132.4" y1="142.5" x2="132.4" y2="145.7" stroke="#1a1a1a" stroke-width="0.9"/>
<line x1="141.6" y1="142.5" x2="141.6" y2="145.7" stroke="#1a1a1a" stroke-width="0.9"/>
<line x1="150.8" y1="142.5" x2="150.8" y2="145.7" stroke="#1a1a1a" stroke-width="0.9"/>
<line x1="166.1" y1="142.5" x2="166.1" y2="145.7" stroke="#1a1a1a" stroke-width="0.9"/>
<line x1="175.3" y1="142.5" x2="175.3" y2="145.7" stroke="#1a1a1a" stroke-width="0.9"/>
<line x1="184.5" y1="142.5" x2="184.5" y2="145.7" stroke="#1a1a1a" stroke-width="0.9"/>
<line x1="194" y1="142.5" x2="194" y2="145.7" stroke="#1a1a1a" stroke-width="0.9"/>
<line x1="203.2" y1="142.5" x2="203.2" y2="145.7" stroke="#1a1a1a" stroke-width="0.9"/>
<line x1="212.3" y1="142.5" x2="212.3" y2="145.7" stroke="#1a1a1a" stroke-width="0.9"/>
<line x1="221.3" y1="142.5" x2="221.3" y2="145.7" stroke="#1a1a1a" stroke-width="0.9"/>
<line x1="230.8" y1="142.5" x2="230.8" y2="145.7" stroke="#1a1a1a" stroke-width="0.9"/>
<line x1="239.9" y1="142.5" x2="239.9" y2="145.7" stroke="#1a1a1a" stroke-width="0.9"/>
<line x1="249.3" y1="142.5" x2="249.3" y2="145.7" stroke="#1a1a1a" stroke-width="0.9"/>
<line x1="61.7" y1="20.5" x2="61.7" y2="143.1" stroke="#1a1a1a" stroke-width="1.25"/>
<line x1="61.1" y1="142.5" x2="255" y2="142.5" stroke="#1a1a1a" stroke-width="1.3"/>
<line x1="58.2" y1="142.5" x2="61.7" y2="142.5" stroke="#1a1a1a" stroke-width="1"/>
<line x1="58.2" y1="118.7" x2="61.7" y2="118.7" stroke="#1a1a1a" stroke-width="1"/>
<line x1="58.2" y1="94.9" x2="61.7" y2="94.9" stroke="#1a1a1a" stroke-width="1"/>
<line x1="58.2" y1="71.1" x2="61.7" y2="71.1" stroke="#1a1a1a" stroke-width="1"/>
<line x1="58.2" y1="47.3" x2="61.7" y2="47.3" stroke="#1a1a1a" stroke-width="1"/>
<line x1="58.2" y1="23.5" x2="61.7" y2="23.5" stroke="#1a1a1a" stroke-width="1"/>
<line x1="159.5" y1="23.8" x2="159.5" y2="142.5" stroke="#1a1a1a" stroke-width="1.05"/>
<line x1="301.5" y1="142.5" x2="301.5" y2="145.7" stroke="#1a1a1a" stroke-width="0.9"/>
<line x1="310.5" y1="142.5" x2="310.5" y2="145.7" stroke="#1a1a1a" stroke-width="0.9"/>
<line x1="319.5" y1="142.5" x2="319.5" y2="145.7" stroke="#1a1a1a" stroke-width="0.9"/>
<line x1="328.5" y1="142.5" x2="328.5" y2="145.7" stroke="#1a1a1a" stroke-width="0.9"/>
<line x1="337.5" y1="142.5" x2="337.5" y2="145.7" stroke="#1a1a1a" stroke-width="0.9"/>
<line x1="346.4" y1="142.5" x2="346.4" y2="145.7" stroke="#1a1a1a" stroke-width="0.9"/>
<line x1="355.5" y1="142.5" x2="355.5" y2="145.7" stroke="#1a1a1a" stroke-width="0.9"/>
<line x1="364.8" y1="142.5" x2="364.8" y2="145.7" stroke="#1a1a1a" stroke-width="0.9"/>
<line x1="373.7" y1="142.5" x2="373.7" y2="145.7" stroke="#1a1a1a" stroke-width="0.9"/>
<line x1="382.5" y1="142.5" x2="382.5" y2="145.7" stroke="#1a1a1a" stroke-width="0.9"/>
<line x1="391.8" y1="142.5" x2="391.8" y2="145.7" stroke="#1a1a1a" stroke-width="0.9"/>
<line x1="406.9" y1="142.5" x2="406.9" y2="145.7" stroke="#1a1a1a" stroke-width="0.9"/>
<line x1="415.7" y1="142.5" x2="415.7" y2="145.7" stroke="#1a1a1a" stroke-width="0.9"/>
<line x1="424.6" y1="142.5" x2="424.6" y2="145.7" stroke="#1a1a1a" stroke-width="0.9"/>
<line x1="433.5" y1="142.5" x2="433.5" y2="145.7" stroke="#1a1a1a" stroke-width="0.9"/>
<line x1="442.8" y1="142.5" x2="442.8" y2="145.7" stroke="#1a1a1a" stroke-width="0.9"/>
<line x1="452" y1="142.5" x2="452" y2="145.7" stroke="#1a1a1a" stroke-width="0.9"/>
<line x1="460.9" y1="142.5" x2="460.9" y2="145.7" stroke="#1a1a1a" stroke-width="0.9"/>
<line x1="469.8" y1="142.5" x2="469.8" y2="145.7" stroke="#1a1a1a" stroke-width="0.9"/>
<line x1="478.8" y1="142.5" x2="478.8" y2="145.7" stroke="#1a1a1a" stroke-width="0.9"/>
<line x1="488.1" y1="142.5" x2="488.1" y2="145.7" stroke="#1a1a1a" stroke-width="0.9"/>
<line x1="497" y1="142.5" x2="497" y2="145.7" stroke="#1a1a1a" stroke-width="0.9"/>
<line x1="295.5" y1="21" x2="295.5" y2="143.1" stroke="#1a1a1a" stroke-width="1.25"/>
<line x1="294.9" y1="142.5" x2="503.5" y2="142.5" stroke="#1a1a1a" stroke-width="1.3"/>
<line x1="292" y1="142.5" x2="295.5" y2="142.5" stroke="#1a1a1a" stroke-width="1"/>
<line x1="292" y1="118.85" x2="295.5" y2="118.85" stroke="#1a1a1a" stroke-width="1"/>
<line x1="292" y1="95.2" x2="295.5" y2="95.2" stroke="#1a1a1a" stroke-width="1"/>
<line x1="292" y1="71.55" x2="295.5" y2="71.55" stroke="#1a1a1a" stroke-width="1"/>
<line x1="292" y1="47.9" x2="295.5" y2="47.9" stroke="#1a1a1a" stroke-width="1"/>
<line x1="292" y1="24.25" x2="295.5" y2="24.25" stroke="#1a1a1a" stroke-width="1"/>
<line x1="399.5" y1="24.55" x2="399.5" y2="142.5" stroke="#1a1a1a" stroke-width="1.05"/>
<line x1="70.4" y1="314.5" x2="70.4" y2="317.7" stroke="#1a1a1a" stroke-width="0.9"/>
<line x1="80" y1="314.5" x2="80" y2="317.7" stroke="#1a1a1a" stroke-width="0.9"/>
<line x1="89.4" y1="314.5" x2="89.4" y2="317.7" stroke="#1a1a1a" stroke-width="0.9"/>
<line x1="99" y1="314.5" x2="99" y2="317.7" stroke="#1a1a1a" stroke-width="0.9"/>
<line x1="108.6" y1="314.5" x2="108.6" y2="317.7" stroke="#1a1a1a" stroke-width="0.9"/>
<line x1="118.2" y1="314.5" x2="118.2" y2="317.7" stroke="#1a1a1a" stroke-width="0.9"/>
<line x1="127.8" y1="314.5" x2="127.8" y2="317.7" stroke="#1a1a1a" stroke-width="0.9"/>
<line x1="137.2" y1="314.5" x2="137.2" y2="317.7" stroke="#1a1a1a" stroke-width="0.9"/>
<line x1="146.7" y1="314.5" x2="146.7" y2="317.7" stroke="#1a1a1a" stroke-width="0.9"/>
<line x1="156.5" y1="314.5" x2="156.5" y2="317.7" stroke="#1a1a1a" stroke-width="0.9"/>
<line x1="172.3" y1="314.5" x2="172.3" y2="317.7" stroke="#1a1a1a" stroke-width="0.9"/>
<line x1="181.9" y1="314.5" x2="181.9" y2="317.7" stroke="#1a1a1a" stroke-width="0.9"/>
<line x1="191.5" y1="314.5" x2="191.5" y2="317.7" stroke="#1a1a1a" stroke-width="0.9"/>
<line x1="201" y1="314.5" x2="201" y2="317.7" stroke="#1a1a1a" stroke-width="0.9"/>
<line x1="210.6" y1="314.5" x2="210.6" y2="317.7" stroke="#1a1a1a" stroke-width="0.9"/>
<line x1="220.2" y1="314.5" x2="220.2" y2="317.7" stroke="#1a1a1a" stroke-width="0.9"/>
<line x1="229.8" y1="314.5" x2="229.8" y2="317.7" stroke="#1a1a1a" stroke-width="0.9"/>
<line x1="239.4" y1="314.5" x2="239.4" y2="317.7" stroke="#1a1a1a" stroke-width="0.9"/>
<line x1="248.8" y1="314.5" x2="248.8" y2="317.7" stroke="#1a1a1a" stroke-width="0.9"/>
<line x1="258.5" y1="314.5" x2="258.5" y2="317.7" stroke="#1a1a1a" stroke-width="0.9"/>
<line x1="274.2" y1="314.5" x2="274.2" y2="317.7" stroke="#1a1a1a" stroke-width="0.9"/>
<line x1="283.8" y1="314.5" x2="283.8" y2="317.7" stroke="#1a1a1a" stroke-width="0.9"/>
<line x1="293.5" y1="314.5" x2="293.5" y2="317.7" stroke="#1a1a1a" stroke-width="0.9"/>
<line x1="303" y1="314.5" x2="303" y2="317.7" stroke="#1a1a1a" stroke-width="0.9"/>
<line x1="312.7" y1="314.5" x2="312.7" y2="317.7" stroke="#1a1a1a" stroke-width="0.9"/>
<line x1="322.1" y1="314.5" x2="322.1" y2="317.7" stroke="#1a1a1a" stroke-width="0.9"/>
<line x1="331.7" y1="314.5" x2="331.7" y2="317.7" stroke="#1a1a1a" stroke-width="0.9"/>
<line x1="341.3" y1="314.5" x2="341.3" y2="317.7" stroke="#1a1a1a" stroke-width="0.9"/>
<line x1="351" y1="314.5" x2="351" y2="317.7" stroke="#1a1a1a" stroke-width="0.9"/>
<line x1="360.6" y1="314.5" x2="360.6" y2="317.7" stroke="#1a1a1a" stroke-width="0.9"/>
<line x1="376" y1="314.5" x2="376" y2="317.7" stroke="#1a1a1a" stroke-width="0.9"/>
<line x1="385.6" y1="314.5" x2="385.6" y2="317.7" stroke="#1a1a1a" stroke-width="0.9"/>
<line x1="395.2" y1="314.5" x2="395.2" y2="317.7" stroke="#1a1a1a" stroke-width="0.9"/>
<line x1="404.8" y1="314.5" x2="404.8" y2="317.7" stroke="#1a1a1a" stroke-width="0.9"/>
<line x1="414.4" y1="314.5" x2="414.4" y2="317.7" stroke="#1a1a1a" stroke-width="0.9"/>
<line x1="424" y1="314.5" x2="424" y2="317.7" stroke="#1a1a1a" stroke-width="0.9"/>
<line x1="433.6" y1="314.5" x2="433.6" y2="317.7" stroke="#1a1a1a" stroke-width="0.9"/>
<line x1="443.2" y1="314.5" x2="443.2" y2="317.7" stroke="#1a1a1a" stroke-width="0.9"/>
<line x1="452.8" y1="314.5" x2="452.8" y2="317.7" stroke="#1a1a1a" stroke-width="0.9"/>
<line x1="462.4" y1="314.5" x2="462.4" y2="317.7" stroke="#1a1a1a" stroke-width="0.9"/>
<line x1="64" y1="196.5" x2="64" y2="315.1" stroke="#1a1a1a" stroke-width="1.25"/>
<line x1="63.4" y1="314.5" x2="468" y2="314.5" stroke="#1a1a1a" stroke-width="1.3"/>
<line x1="60.5" y1="314.5" x2="64" y2="314.5" stroke="#1a1a1a" stroke-width="1"/>
<line x1="60.5" y1="291.5" x2="64" y2="291.5" stroke="#1a1a1a" stroke-width="1"/>
<line x1="60.5" y1="268.5" x2="64" y2="268.5" stroke="#1a1a1a" stroke-width="1"/>
<line x1="60.5" y1="245.5" x2="64" y2="245.5" stroke="#1a1a1a" stroke-width="1"/>
<line x1="60.5" y1="222.5" x2="64" y2="222.5" stroke="#1a1a1a" stroke-width="1"/>
<line x1="60.5" y1="199.5" x2="64" y2="199.5" stroke="#1a1a1a" stroke-width="1"/>
<line x1="164.5" y1="199.8" x2="164.5" y2="314.5" stroke="#1a1a1a" stroke-width="1.05"/>
<line x1="265.5" y1="199.8" x2="265.5" y2="314.5" stroke="#1a1a1a" stroke-width="1.05"/>
<line x1="368.5" y1="199.8" x2="368.5" y2="314.5" stroke="#1a1a1a" stroke-width="1.05"/>
<line x1="70" y1="489.5" x2="70" y2="492.7" stroke="#1a1a1a" stroke-width="0.9"/>
<line x1="81" y1="489.5" x2="81" y2="492.7" stroke="#1a1a1a" stroke-width="0.9"/>
<line x1="91.1" y1="489.5" x2="91.1" y2="492.7" stroke="#1a1a1a" stroke-width="0.9"/>
<line x1="101.7" y1="489.5" x2="101.7" y2="492.7" stroke="#1a1a1a" stroke-width="0.9"/>
<line x1="112.3" y1="489.5" x2="112.3" y2="492.7" stroke="#1a1a1a" stroke-width="0.9"/>
<line x1="122.9" y1="489.5" x2="122.9" y2="492.7" stroke="#1a1a1a" stroke-width="0.9"/>
<line x1="133.4" y1="489.5" x2="133.4" y2="492.7" stroke="#1a1a1a" stroke-width="0.9"/>
<line x1="144" y1="489.5" x2="144" y2="492.7" stroke="#1a1a1a" stroke-width="0.9"/>
<line x1="154.6" y1="489.5" x2="154.6" y2="492.7" stroke="#1a1a1a" stroke-width="0.9"/>
<line x1="165.2" y1="489.5" x2="165.2" y2="492.7" stroke="#1a1a1a" stroke-width="0.9"/>
<line x1="182.5" y1="489.5" x2="182.5" y2="492.7" stroke="#1a1a1a" stroke-width="0.9"/>
<line x1="193" y1="489.5" x2="193" y2="492.7" stroke="#1a1a1a" stroke-width="0.9"/>
<line x1="203.6" y1="489.5" x2="203.6" y2="492.7" stroke="#1a1a1a" stroke-width="0.9"/>
<line x1="214.2" y1="489.5" x2="214.2" y2="492.7" stroke="#1a1a1a" stroke-width="0.9"/>
<line x1="225.2" y1="489.5" x2="225.2" y2="492.7" stroke="#1a1a1a" stroke-width="0.9"/>
<line x1="235.8" y1="489.5" x2="235.8" y2="492.7" stroke="#1a1a1a" stroke-width="0.9"/>
<line x1="246.2" y1="489.5" x2="246.2" y2="492.7" stroke="#1a1a1a" stroke-width="0.9"/>
<line x1="256.5" y1="489.5" x2="256.5" y2="492.7" stroke="#1a1a1a" stroke-width="0.9"/>
<line x1="267" y1="489.5" x2="267" y2="492.7" stroke="#1a1a1a" stroke-width="0.9"/>
<line x1="277.5" y1="489.5" x2="277.5" y2="492.7" stroke="#1a1a1a" stroke-width="0.9"/>
<line x1="295.5" y1="489.5" x2="295.5" y2="492.7" stroke="#1a1a1a" stroke-width="0.9"/>
<line x1="306" y1="489.5" x2="306" y2="492.7" stroke="#1a1a1a" stroke-width="0.9"/>
<line x1="316.6" y1="489.5" x2="316.6" y2="492.7" stroke="#1a1a1a" stroke-width="0.9"/>
<line x1="327.2" y1="489.5" x2="327.2" y2="492.7" stroke="#1a1a1a" stroke-width="0.9"/>
<line x1="337.8" y1="489.5" x2="337.8" y2="492.7" stroke="#1a1a1a" stroke-width="0.9"/>
<line x1="348.4" y1="489.5" x2="348.4" y2="492.7" stroke="#1a1a1a" stroke-width="0.9"/>
<line x1="358.9" y1="489.5" x2="358.9" y2="492.7" stroke="#1a1a1a" stroke-width="0.9"/>
<line x1="369.5" y1="489.5" x2="369.5" y2="492.7" stroke="#1a1a1a" stroke-width="0.9"/>
<line x1="380" y1="489.5" x2="380" y2="492.7" stroke="#1a1a1a" stroke-width="0.9"/>
<line x1="390.5" y1="489.5" x2="390.5" y2="492.7" stroke="#1a1a1a" stroke-width="0.9"/>
<line x1="408" y1="489.5" x2="408" y2="492.7" stroke="#1a1a1a" stroke-width="0.9"/>
<line x1="418.6" y1="489.5" x2="418.6" y2="492.7" stroke="#1a1a1a" stroke-width="0.9"/>
<line x1="429.2" y1="489.5" x2="429.2" y2="492.7" stroke="#1a1a1a" stroke-width="0.9"/>
<line x1="439.6" y1="489.5" x2="439.6" y2="492.7" stroke="#1a1a1a" stroke-width="0.9"/>
<line x1="450.1" y1="489.5" x2="450.1" y2="492.7" stroke="#1a1a1a" stroke-width="0.9"/>
<line x1="460.7" y1="489.5" x2="460.7" y2="492.7" stroke="#1a1a1a" stroke-width="0.9"/>
<line x1="471.3" y1="489.5" x2="471.3" y2="492.7" stroke="#1a1a1a" stroke-width="0.9"/>
<line x1="481.9" y1="489.5" x2="481.9" y2="492.7" stroke="#1a1a1a" stroke-width="0.9"/>
<line x1="492.4" y1="489.5" x2="492.4" y2="492.7" stroke="#1a1a1a" stroke-width="0.9"/>
<line x1="503" y1="489.5" x2="503" y2="492.7" stroke="#1a1a1a" stroke-width="0.9"/>
<line x1="63.1" y1="364.8" x2="63.1" y2="490.1" stroke="#1a1a1a" stroke-width="1.25"/>
<line x1="62.5" y1="489.5" x2="510.2" y2="489.5" stroke="#1a1a1a" stroke-width="1.3"/>
<line x1="59.6" y1="489.5" x2="63.1" y2="489.5" stroke="#1a1a1a" stroke-width="1"/>
<line x1="59.6" y1="465.6" x2="63.1" y2="465.6" stroke="#1a1a1a" stroke-width="1"/>
<line x1="59.6" y1="441.7" x2="63.1" y2="441.7" stroke="#1a1a1a" stroke-width="1"/>
<line x1="59.6" y1="417.8" x2="63.1" y2="417.8" stroke="#1a1a1a" stroke-width="1"/>
<line x1="59.6" y1="393.9" x2="63.1" y2="393.9" stroke="#1a1a1a" stroke-width="1"/>
<line x1="59.6" y1="370" x2="63.1" y2="370" stroke="#1a1a1a" stroke-width="1"/>
<line x1="174.5" y1="370.3" x2="174.5" y2="489.5" stroke="#1a1a1a" stroke-width="1.05"/>
<line x1="287.5" y1="370.3" x2="287.5" y2="489.5" stroke="#1a1a1a" stroke-width="1.05"/>
<line x1="400.5" y1="370.3" x2="400.5" y2="489.5" stroke="#1a1a1a" stroke-width="1.05"/>
<line x1="70" y1="660" x2="70" y2="663.2" stroke="#1a1a1a" stroke-width="0.9"/>
<line x1="82.1" y1="660" x2="82.1" y2="663.2" stroke="#1a1a1a" stroke-width="0.9"/>
<line x1="93.3" y1="660" x2="93.3" y2="663.2" stroke="#1a1a1a" stroke-width="0.9"/>
<line x1="104.9" y1="660" x2="104.9" y2="663.2" stroke="#1a1a1a" stroke-width="0.9"/>
<line x1="116.6" y1="660" x2="116.6" y2="663.2" stroke="#1a1a1a" stroke-width="0.9"/>
<line x1="128" y1="660" x2="128" y2="663.2" stroke="#1a1a1a" stroke-width="0.9"/>
<line x1="139.8" y1="660" x2="139.8" y2="663.2" stroke="#1a1a1a" stroke-width="0.9"/>
<line x1="150.9" y1="660" x2="150.9" y2="663.2" stroke="#1a1a1a" stroke-width="0.9"/>
<line x1="159.4" y1="660" x2="159.4" y2="663.2" stroke="#1a1a1a" stroke-width="0.9"/>
<line x1="162.7" y1="660" x2="162.7" y2="663.2" stroke="#1a1a1a" stroke-width="0.9"/>
<line x1="166" y1="660" x2="166" y2="663.2" stroke="#1a1a1a" stroke-width="0.9"/>
<line x1="183.1" y1="660" x2="183.1" y2="663.2" stroke="#1a1a1a" stroke-width="0.9"/>
<line x1="194.5" y1="660" x2="194.5" y2="663.2" stroke="#1a1a1a" stroke-width="0.9"/>
<line x1="206.2" y1="660" x2="206.2" y2="663.2" stroke="#1a1a1a" stroke-width="0.9"/>
<line x1="217.8" y1="660" x2="217.8" y2="663.2" stroke="#1a1a1a" stroke-width="0.9"/>
<line x1="229" y1="660" x2="229" y2="663.2" stroke="#1a1a1a" stroke-width="0.9"/>
<line x1="240.8" y1="660" x2="240.8" y2="663.2" stroke="#1a1a1a" stroke-width="0.9"/>
<line x1="252.3" y1="660" x2="252.3" y2="663.2" stroke="#1a1a1a" stroke-width="0.9"/>
<line x1="263.9" y1="660" x2="263.9" y2="663.2" stroke="#1a1a1a" stroke-width="0.9"/>
<line x1="271.3" y1="660" x2="271.3" y2="663.2" stroke="#1a1a1a" stroke-width="0.9"/>
<line x1="275.2" y1="660" x2="275.2" y2="663.2" stroke="#1a1a1a" stroke-width="0.9"/>
<line x1="279.2" y1="660" x2="279.2" y2="663.2" stroke="#1a1a1a" stroke-width="0.9"/>
<line x1="295.9" y1="660" x2="295.9" y2="663.2" stroke="#1a1a1a" stroke-width="0.9"/>
<line x1="307.5" y1="660" x2="307.5" y2="663.2" stroke="#1a1a1a" stroke-width="0.9"/>
<line x1="319.2" y1="660" x2="319.2" y2="663.2" stroke="#1a1a1a" stroke-width="0.9"/>
<line x1="330.8" y1="660" x2="330.8" y2="663.2" stroke="#1a1a1a" stroke-width="0.9"/>
<line x1="342" y1="660" x2="342" y2="663.2" stroke="#1a1a1a" stroke-width="0.9"/>
<line x1="353.8" y1="660" x2="353.8" y2="663.2" stroke="#1a1a1a" stroke-width="0.9"/>
<line x1="365.3" y1="660" x2="365.3" y2="663.2" stroke="#1a1a1a" stroke-width="0.9"/>
<line x1="376.9" y1="660" x2="376.9" y2="663.2" stroke="#1a1a1a" stroke-width="0.9"/>
<line x1="384.5" y1="660" x2="384.5" y2="663.2" stroke="#1a1a1a" stroke-width="0.9"/>
<line x1="388.3" y1="660" x2="388.3" y2="663.2" stroke="#1a1a1a" stroke-width="0.9"/>
<line x1="392.4" y1="660" x2="392.4" y2="663.2" stroke="#1a1a1a" stroke-width="0.9"/>
<line x1="408.9" y1="660" x2="408.9" y2="663.2" stroke="#1a1a1a" stroke-width="0.9"/>
<line x1="420.5" y1="660" x2="420.5" y2="663.2" stroke="#1a1a1a" stroke-width="0.9"/>
<line x1="431.7" y1="660" x2="431.7" y2="663.2" stroke="#1a1a1a" stroke-width="0.9"/>
<line x1="443.4" y1="660" x2="443.4" y2="663.2" stroke="#1a1a1a" stroke-width="0.9"/>
<line x1="455" y1="660" x2="455" y2="663.2" stroke="#1a1a1a" stroke-width="0.9"/>
<line x1="466.6" y1="660" x2="466.6" y2="663.2" stroke="#1a1a1a" stroke-width="0.9"/>
<line x1="478.3" y1="660" x2="478.3" y2="663.2" stroke="#1a1a1a" stroke-width="0.9"/>
<line x1="489.9" y1="660" x2="489.9" y2="663.2" stroke="#1a1a1a" stroke-width="0.9"/>
<line x1="497.5" y1="660" x2="497.5" y2="663.2" stroke="#1a1a1a" stroke-width="0.9"/>
<line x1="501.7" y1="660" x2="501.7" y2="663.2" stroke="#1a1a1a" stroke-width="0.9"/>
<line x1="505.7" y1="660" x2="505.7" y2="663.2" stroke="#1a1a1a" stroke-width="0.9"/>
<line x1="62.9" y1="543.9" x2="62.9" y2="660.6" stroke="#1a1a1a" stroke-width="1.25"/>
<line x1="62.3" y1="660" x2="510" y2="660" stroke="#1a1a1a" stroke-width="1.3"/>
<line x1="59.4" y1="660" x2="62.9" y2="660" stroke="#1a1a1a" stroke-width="1"/>
<line x1="59.4" y1="637.65" x2="62.9" y2="637.65" stroke="#1a1a1a" stroke-width="1"/>
<line x1="59.4" y1="615.3" x2="62.9" y2="615.3" stroke="#1a1a1a" stroke-width="1"/>
<line x1="59.4" y1="592.95" x2="62.9" y2="592.95" stroke="#1a1a1a" stroke-width="1"/>
<line x1="59.4" y1="570.6" x2="62.9" y2="570.6" stroke="#1a1a1a" stroke-width="1"/>
<line x1="59.4" y1="548.25" x2="62.9" y2="548.25" stroke="#1a1a1a" stroke-width="1"/>
<line x1="173.5" y1="548.55" x2="173.5" y2="660" stroke="#1a1a1a" stroke-width="1.05"/>
<line x1="286.5" y1="548.55" x2="286.5" y2="660" stroke="#1a1a1a" stroke-width="1.05"/>
<line x1="399.5" y1="548.55" x2="399.5" y2="660" stroke="#1a1a1a" stroke-width="1.05"/>
<line x1="69" y1="834.2" x2="69" y2="837.4" stroke="#1a1a1a" stroke-width="0.9"/>
<line x1="78.5" y1="834.2" x2="78.5" y2="837.4" stroke="#1a1a1a" stroke-width="0.9"/>
<line x1="88" y1="834.2" x2="88" y2="837.4" stroke="#1a1a1a" stroke-width="0.9"/>
<line x1="98" y1="834.2" x2="98" y2="837.4" stroke="#1a1a1a" stroke-width="0.9"/>
<line x1="107.5" y1="834.2" x2="107.5" y2="837.4" stroke="#1a1a1a" stroke-width="0.9"/>
<line x1="117.4" y1="834.2" x2="117.4" y2="837.4" stroke="#1a1a1a" stroke-width="0.9"/>
<line x1="127.2" y1="834.2" x2="127.2" y2="837.4" stroke="#1a1a1a" stroke-width="0.9"/>
<line x1="136.5" y1="834.2" x2="136.5" y2="837.4" stroke="#1a1a1a" stroke-width="0.9"/>
<line x1="146.2" y1="834.2" x2="146.2" y2="837.4" stroke="#1a1a1a" stroke-width="0.9"/>
<line x1="155.9" y1="834.2" x2="155.9" y2="837.4" stroke="#1a1a1a" stroke-width="0.9"/>
<line x1="165.5" y1="834.2" x2="165.5" y2="837.4" stroke="#1a1a1a" stroke-width="0.9"/>
<line x1="181.8" y1="834.2" x2="181.8" y2="837.4" stroke="#1a1a1a" stroke-width="0.9"/>
<line x1="191.3" y1="834.2" x2="191.3" y2="837.4" stroke="#1a1a1a" stroke-width="0.9"/>
<line x1="200.9" y1="834.2" x2="200.9" y2="837.4" stroke="#1a1a1a" stroke-width="0.9"/>
<line x1="210.6" y1="834.2" x2="210.6" y2="837.4" stroke="#1a1a1a" stroke-width="0.9"/>
<line x1="220.5" y1="834.2" x2="220.5" y2="837.4" stroke="#1a1a1a" stroke-width="0.9"/>
<line x1="230" y1="834.2" x2="230" y2="837.4" stroke="#1a1a1a" stroke-width="0.9"/>
<line x1="240" y1="834.2" x2="240" y2="837.4" stroke="#1a1a1a" stroke-width="0.9"/>
<line x1="249.5" y1="834.2" x2="249.5" y2="837.4" stroke="#1a1a1a" stroke-width="0.9"/>
<line x1="259" y1="834.2" x2="259" y2="837.4" stroke="#1a1a1a" stroke-width="0.9"/>
<line x1="268.3" y1="834.2" x2="268.3" y2="837.4" stroke="#1a1a1a" stroke-width="0.9"/>
<line x1="278" y1="834.2" x2="278" y2="837.4" stroke="#1a1a1a" stroke-width="0.9"/>
<line x1="294.4" y1="834.2" x2="294.4" y2="837.4" stroke="#1a1a1a" stroke-width="0.9"/>
<line x1="303.9" y1="834.2" x2="303.9" y2="837.4" stroke="#1a1a1a" stroke-width="0.9"/>
<line x1="313.9" y1="834.2" x2="313.9" y2="837.4" stroke="#1a1a1a" stroke-width="0.9"/>
<line x1="323.4" y1="834.2" x2="323.4" y2="837.4" stroke="#1a1a1a" stroke-width="0.9"/>
<line x1="333.1" y1="834.2" x2="333.1" y2="837.4" stroke="#1a1a1a" stroke-width="0.9"/>
<line x1="342.4" y1="834.2" x2="342.4" y2="837.4" stroke="#1a1a1a" stroke-width="0.9"/>
<line x1="352.6" y1="834.2" x2="352.6" y2="837.4" stroke="#1a1a1a" stroke-width="0.9"/>
<line x1="362.1" y1="834.2" x2="362.1" y2="837.4" stroke="#1a1a1a" stroke-width="0.9"/>
<line x1="371.6" y1="834.2" x2="371.6" y2="837.4" stroke="#1a1a1a" stroke-width="0.9"/>
<line x1="381.2" y1="834.2" x2="381.2" y2="837.4" stroke="#1a1a1a" stroke-width="0.9"/>
<line x1="391" y1="834.2" x2="391" y2="837.4" stroke="#1a1a1a" stroke-width="0.9"/>
<line x1="407" y1="834.2" x2="407" y2="837.4" stroke="#1a1a1a" stroke-width="0.9"/>
<line x1="416.9" y1="834.2" x2="416.9" y2="837.4" stroke="#1a1a1a" stroke-width="0.9"/>
<line x1="426.4" y1="834.2" x2="426.4" y2="837.4" stroke="#1a1a1a" stroke-width="0.9"/>
<line x1="436.4" y1="834.2" x2="436.4" y2="837.4" stroke="#1a1a1a" stroke-width="0.9"/>
<line x1="445.5" y1="834.2" x2="445.5" y2="837.4" stroke="#1a1a1a" stroke-width="0.9"/>
<line x1="455.4" y1="834.2" x2="455.4" y2="837.4" stroke="#1a1a1a" stroke-width="0.9"/>
<line x1="465.2" y1="834.2" x2="465.2" y2="837.4" stroke="#1a1a1a" stroke-width="0.9"/>
<line x1="474.5" y1="834.2" x2="474.5" y2="837.4" stroke="#1a1a1a" stroke-width="0.9"/>
<line x1="484.6" y1="834.2" x2="484.6" y2="837.4" stroke="#1a1a1a" stroke-width="0.9"/>
<line x1="493.8" y1="834.2" x2="493.8" y2="837.4" stroke="#1a1a1a" stroke-width="0.9"/>
<line x1="503.7" y1="834.2" x2="503.7" y2="837.4" stroke="#1a1a1a" stroke-width="0.9"/>
<line x1="62.9" y1="713.5" x2="62.9" y2="834.8" stroke="#1a1a1a" stroke-width="1.25"/>
<line x1="62.3" y1="834.2" x2="510" y2="834.2" stroke="#1a1a1a" stroke-width="1.3"/>
<line x1="59.4" y1="834.2" x2="62.9" y2="834.2" stroke="#1a1a1a" stroke-width="1"/>
<line x1="59.4" y1="810.71" x2="62.9" y2="810.71" stroke="#1a1a1a" stroke-width="1"/>
<line x1="59.4" y1="787.22" x2="62.9" y2="787.22" stroke="#1a1a1a" stroke-width="1"/>
<line x1="59.4" y1="763.73" x2="62.9" y2="763.73" stroke="#1a1a1a" stroke-width="1"/>
<line x1="59.4" y1="740.24" x2="62.9" y2="740.24" stroke="#1a1a1a" stroke-width="1"/>
<line x1="59.4" y1="716.75" x2="62.9" y2="716.75" stroke="#1a1a1a" stroke-width="1"/>
<line x1="173.5" y1="717.05" x2="173.5" y2="834.2" stroke="#1a1a1a" stroke-width="1.05"/>
<line x1="286.5" y1="717.05" x2="286.5" y2="834.2" stroke="#1a1a1a" stroke-width="1.05"/>
<line x1="399.5" y1="717.05" x2="399.5" y2="834.2" stroke="#1a1a1a" stroke-width="1.05"/></g>
<g fill="#141414"><circle cx="68" cy="105.4" r="2.35"/>
<circle cx="68" cy="119.2" r="2.35"/>
<circle cx="68" cy="136" r="2.35"/>
<circle cx="77.2" cy="99.6" r="2.35"/>
<circle cx="77.2" cy="119.8" r="2.35"/>
<circle cx="77.2" cy="138.8" r="2.35"/>
<circle cx="86.4" cy="102.5" r="2.35"/>
<circle cx="86.4" cy="134.8" r="2.35"/>
<circle cx="95.6" cy="100.8" r="2.35"/>
<circle cx="95.6" cy="133.7" r="2.35"/>
<circle cx="104.8" cy="93.8" r="2.35"/>
<circle cx="104.8" cy="116.9" r="2.35"/>
<circle cx="114" cy="121.2" r="2.35"/>
<circle cx="123.2" cy="142.4" r="2.35"/>
<circle cx="132.4" cy="107.8" r="2.35"/>
<circle cx="141.6" cy="140.3" r="2.35"/>
<circle cx="166.1" cy="37.5" r="2.35"/>
<circle cx="166.1" cy="64.6" r="2.35"/>
<circle cx="166.1" cy="70.6" r="2.35"/>
<circle cx="175.3" cy="34" r="2.35"/>
<circle cx="175.3" cy="57.7" r="2.35"/>
<circle cx="175.3" cy="87.7" r="2.35"/>
<circle cx="184.5" cy="65.2" r="2.35"/>
<circle cx="184.5" cy="72.7" r="2.35"/>
<circle cx="194" cy="58.6" r="2.35"/>
<circle cx="194" cy="97.6" r="2.35"/>
<circle cx="203.2" cy="81" r="2.35"/>
<circle cx="203.2" cy="90.9" r="2.35"/>
<circle cx="212.3" cy="132.2" r="2.35"/>
<circle cx="221.3" cy="142.6" r="2.35"/>
<circle cx="230.8" cy="75.7" r="2.35"/>
<circle cx="239.9" cy="70.2" r="2.35"/>
<circle cx="301.5" cy="50.8" r="2.35"/>
<circle cx="301.5" cy="54.2" r="2.35"/>
<circle cx="301.5" cy="63.5" r="2.35"/>
<circle cx="303.2" cy="65" r="2.35"/>
<circle cx="301.5" cy="79.6" r="2.35"/>
<circle cx="303.2" cy="80" r="2.35"/>
<circle cx="301.5" cy="104.9" r="2.35"/>
<circle cx="301.5" cy="142.4" r="2.35"/>
<circle cx="310.5" cy="60" r="2.35"/>
<circle cx="312.2" cy="62" r="2.35"/>
<circle cx="312.2" cy="64" r="2.35"/>
<circle cx="310.5" cy="85.6" r="2.35"/>
<circle cx="312.2" cy="87" r="2.35"/>
<circle cx="310.5" cy="92.2" r="2.35"/>
<circle cx="310.5" cy="106.9" r="2.35"/>
<circle cx="312.2" cy="109.8" r="2.35"/>
<circle cx="310.5" cy="122" r="2.35"/>
<circle cx="310.5" cy="142.4" r="2.35"/>
<circle cx="319.5" cy="67.3" r="2.35"/>
<circle cx="319.5" cy="81.3" r="2.35"/>
<circle cx="319.5" cy="110.8" r="2.35"/>
<circle cx="319.5" cy="117.1" r="2.35"/>
<circle cx="319.5" cy="126.4" r="2.35"/>
<circle cx="321.2" cy="128.8" r="2.35"/>
<circle cx="319.5" cy="132.8" r="2.35"/>
<circle cx="319.5" cy="142.4" r="2.35"/>
<circle cx="328.5" cy="90.3" r="2.35"/>
<circle cx="328.5" cy="108.3" r="2.35"/>
<circle cx="328.5" cy="119.8" r="2.35"/>
<circle cx="328.5" cy="124.9" r="2.35"/>
<circle cx="328.5" cy="128.4" r="2.35"/>
<circle cx="328.5" cy="132.3" r="2.35"/>
<circle cx="328.5" cy="142.4" r="2.35"/>
<circle cx="337.5" cy="66.3" r="2.35"/>
<circle cx="337.5" cy="79" r="2.35"/>
<circle cx="337.5" cy="111.8" r="2.35"/>
<circle cx="337.5" cy="115.7" r="2.35"/>
<circle cx="337.5" cy="132.3" r="2.35"/>
<circle cx="337.5" cy="142.4" r="2.35"/>
<circle cx="346.4" cy="102.3" r="2.35"/>
<circle cx="346.4" cy="106.6" r="2.35"/>
<circle cx="346.4" cy="111" r="2.35"/>
<circle cx="346.4" cy="115.2" r="2.35"/>
<circle cx="346.4" cy="133.8" r="2.35"/>
<circle cx="346.4" cy="142.4" r="2.35"/>
<circle cx="355.5" cy="74.1" r="2.35"/>
<circle cx="355.5" cy="89" r="2.35"/>
<circle cx="355.5" cy="105.2" r="2.35"/>
<circle cx="355.5" cy="112.8" r="2.35"/>
<circle cx="355.5" cy="127.4" r="2.35"/>
<circle cx="355.5" cy="142.4" r="2.35"/>
<circle cx="364.8" cy="71.6" r="2.35"/>
<circle cx="366.5" cy="74.1" r="2.35"/>
<circle cx="364.8" cy="82.3" r="2.35"/>
<circle cx="364.8" cy="103" r="2.35"/>
<circle cx="364.8" cy="118.8" r="2.35"/>
<circle cx="364.8" cy="132.4" r="2.35"/>
<circle cx="364.8" cy="142.4" r="2.35"/>
<circle cx="373.7" cy="52.2" r="2.35"/>
<circle cx="373.7" cy="58" r="2.35"/>
<circle cx="373.7" cy="121.4" r="2.35"/>
<circle cx="373.7" cy="142.4" r="2.35"/>
<circle cx="382.5" cy="48.6" r="2.35"/>
<circle cx="382.5" cy="142.4" r="2.35"/>
<circle cx="391.8" cy="142.4" r="2.35"/>
<circle cx="406.9" cy="65.8" r="2.35"/>
<circle cx="406.9" cy="88" r="2.35"/>
<circle cx="408.6" cy="90.6" r="2.35"/>
<circle cx="406.9" cy="108.6" r="2.35"/>
<circle cx="406.9" cy="113.8" r="2.35"/>
<circle cx="406.9" cy="120.4" r="2.35"/>
<circle cx="406.9" cy="123.4" r="2.35"/>
<circle cx="406.9" cy="142.6" r="2.35"/>
<circle cx="415.7" cy="51" r="2.35"/>
<circle cx="415.7" cy="57" r="2.35"/>
<circle cx="417.4" cy="58.7" r="2.35"/>
<circle cx="415.7" cy="63.6" r="2.35"/>
<circle cx="417.4" cy="65" r="2.35"/>
<circle cx="415.7" cy="78.3" r="2.35"/>
<circle cx="417.4" cy="79.8" r="2.35"/>
<circle cx="415.7" cy="103.5" r="2.35"/>
<circle cx="415.7" cy="108.6" r="2.35"/>
<circle cx="415.7" cy="142.6" r="2.35"/>
<circle cx="424.6" cy="30.6" r="2.35"/>
<circle cx="424.6" cy="37.7" r="2.35"/>
<circle cx="426.3" cy="40" r="2.35"/>
<circle cx="424.6" cy="43.6" r="2.35"/>
<circle cx="424.6" cy="51.8" r="2.35"/>
<circle cx="424.6" cy="58.7" r="2.35"/>
<circle cx="424.6" cy="90.2" r="2.35"/>
<circle cx="424.6" cy="99.8" r="2.35"/>
<circle cx="424.6" cy="142.6" r="2.35"/>
<circle cx="433.5" cy="35.5" r="2.35"/>
<circle cx="433.5" cy="38.5" r="2.35"/>
<circle cx="435.2" cy="40.7" r="2.35"/>
<circle cx="433.5" cy="59.9" r="2.35"/>
<circle cx="433.5" cy="78.3" r="2.35"/>
<circle cx="433.5" cy="138" r="2.35"/>
<circle cx="433.5" cy="142.6" r="2.35"/>
<circle cx="442.8" cy="34.8" r="2.35"/>
<circle cx="442.8" cy="43.6" r="2.35"/>
<circle cx="442.8" cy="65.8" r="2.35"/>
<circle cx="442.8" cy="90.9" r="2.35"/>
<circle cx="442.8" cy="100.5" r="2.35"/>
<circle cx="442.8" cy="142.6" r="2.35"/>
<circle cx="452" cy="36.5" r="2.35"/>
<circle cx="452" cy="57.5" r="2.35"/>
<circle cx="452" cy="65.5" r="2.35"/>
<circle cx="452" cy="80.1" r="2.35"/>
<circle cx="452" cy="104.2" r="2.35"/>
<circle cx="452" cy="142.4" r="2.35"/>
<circle cx="460.9" cy="41.5" r="2.35"/>
<circle cx="460.9" cy="58.4" r="2.35"/>
<circle cx="460.9" cy="78.7" r="2.35"/>
<circle cx="460.9" cy="100.9" r="2.35"/>
<circle cx="460.9" cy="110.5" r="2.35"/>
<circle cx="460.9" cy="142.4" r="2.35"/>
<circle cx="469.8" cy="40.8" r="2.35"/>
<circle cx="469.8" cy="54.7" r="2.35"/>
<circle cx="469.8" cy="109" r="2.35"/>
<circle cx="469.8" cy="118.8" r="2.35"/>
<circle cx="469.8" cy="128.5" r="2.35"/>
<circle cx="469.8" cy="142.4" r="2.35"/>
<circle cx="478.8" cy="55.1" r="2.35"/>
<circle cx="478.8" cy="121" r="2.35"/>
<circle cx="478.8" cy="126" r="2.35"/>
<circle cx="478.8" cy="142.4" r="2.35"/>
<circle cx="488.1" cy="142.4" r="2.35"/>
<circle cx="497" cy="142.4" r="2.35"/>
<circle cx="70.4" cy="314.5" r="2.35"/>
<circle cx="72.1" cy="314.5" r="2.35"/>
<circle cx="80" cy="314.5" r="2.35"/>
<circle cx="81.7" cy="314.5" r="2.35"/>
<circle cx="89.4" cy="300.8" r="2.35"/>
<circle cx="99" cy="286" r="2.35"/>
<circle cx="99" cy="301.7" r="2.35"/>
<circle cx="108.6" cy="314.5" r="2.35"/>
<circle cx="110.3" cy="314.5" r="2.35"/>
<circle cx="118.2" cy="314.5" r="2.35"/>
<circle cx="137.2" cy="314.5" r="2.35"/>
<circle cx="146.7" cy="314.5" r="2.35"/>
<circle cx="172.3" cy="262.1" r="2.35"/>
<circle cx="172.3" cy="314.5" r="2.35"/>
<circle cx="181.9" cy="291.3" r="2.35"/>
<circle cx="181.9" cy="295.8" r="2.35"/>
<circle cx="191.5" cy="287.1" r="2.35"/>
<circle cx="201" cy="273.7" r="2.35"/>
<circle cx="201" cy="314.5" r="2.35"/>
<circle cx="210.6" cy="267.5" r="2.35"/>
<circle cx="210.6" cy="314.5" r="2.35"/>
<circle cx="220.2" cy="314.5" r="2.35"/>
<circle cx="239.4" cy="255.4" r="2.35"/>
<circle cx="248.8" cy="280.4" r="2.35"/>
<circle cx="274.2" cy="223.7" r="2.35"/>
<circle cx="274.2" cy="252.3" r="2.35"/>
<circle cx="283.8" cy="223.5" r="2.35"/>
<circle cx="285.5" cy="223.5" r="2.35"/>
<circle cx="293.5" cy="244.8" r="2.35"/>
<circle cx="303" cy="227.9" r="2.35"/>
<circle cx="303" cy="258" r="2.35"/>
<circle cx="312.7" cy="213" r="2.35"/>
<circle cx="312.7" cy="257.1" r="2.35"/>
<circle cx="322.1" cy="314.5" r="2.35"/>
<circle cx="341.3" cy="265.4" r="2.35"/>
<circle cx="351" cy="233.7" r="2.35"/>
<circle cx="376" cy="314.5" r="2.35"/>
<circle cx="377.7" cy="314.5" r="2.35"/>
<circle cx="385.6" cy="314.5" r="2.35"/>
<circle cx="387.3" cy="314.5" r="2.35"/>
<circle cx="395.2" cy="314.5" r="2.35"/>
<circle cx="404.8" cy="314.5" r="2.35"/>
<circle cx="406.5" cy="314.5" r="2.35"/>
<circle cx="414.4" cy="314.5" r="2.35"/>
<circle cx="416.1" cy="314.5" r="2.35"/>
<circle cx="424" cy="314.5" r="2.35"/>
<circle cx="443.2" cy="314.5" r="2.35"/>
<circle cx="452.8" cy="314.5" r="2.35"/>
<circle cx="70" cy="489.4" r="2.35"/>
<circle cx="71.7" cy="489.4" r="2.35"/>
<circle cx="81" cy="464.3" r="2.35"/>
<circle cx="81" cy="489.4" r="2.35"/>
<circle cx="82.7" cy="489.4" r="2.35"/>
<circle cx="91.1" cy="489.4" r="2.35"/>
<circle cx="92.8" cy="489.4" r="2.35"/>
<circle cx="101.7" cy="489.4" r="2.35"/>
<circle cx="103.4" cy="489.4" r="2.35"/>
<circle cx="112.3" cy="489.4" r="2.35"/>
<circle cx="114" cy="489.4" r="2.35"/>
<circle cx="122.9" cy="489.4" r="2.35"/>
<circle cx="144" cy="489.4" r="2.35"/>
<circle cx="154.6" cy="489.4" r="2.35"/>
<circle cx="182.5" cy="444.2" r="2.35"/>
<circle cx="182.5" cy="459.6" r="2.35"/>
<circle cx="182.5" cy="464.5" r="2.35"/>
<circle cx="190.8" cy="467.7" r="2.35"/>
<circle cx="194.8" cy="470.8" r="2.35"/>
<circle cx="193" cy="486.7" r="2.35"/>
<circle cx="203.6" cy="489.4" r="2.35"/>
<circle cx="205.3" cy="489.4" r="2.35"/>
<circle cx="214.2" cy="489.4" r="2.35"/>
<circle cx="215.9" cy="489.4" r="2.35"/>
<circle cx="225.2" cy="489.4" r="2.35"/>
<circle cx="226.9" cy="489.4" r="2.35"/>
<circle cx="235.8" cy="489.4" r="2.35"/>
<circle cx="256.5" cy="475" r="2.35"/>
<circle cx="267" cy="489.4" r="2.35"/>
<circle cx="295.5" cy="404.8" r="2.35"/>
<circle cx="295.5" cy="422.1" r="2.35"/>
<circle cx="295.5" cy="435.4" r="2.35"/>
<circle cx="306" cy="383" r="2.35"/>
<circle cx="306" cy="412.6" r="2.35"/>
<circle cx="306" cy="430.2" r="2.35"/>
<circle cx="316.6" cy="402.7" r="2.35"/>
<circle cx="316.6" cy="416.8" r="2.35"/>
<circle cx="327.2" cy="387.8" r="2.35"/>
<circle cx="327.2" cy="409.8" r="2.35"/>
<circle cx="337.8" cy="386.2" r="2.35"/>
<circle cx="337.8" cy="405.2" r="2.35"/>
<circle cx="348.4" cy="489.4" r="2.35"/>
<circle cx="369.5" cy="387.8" r="2.35"/>
<circle cx="380" cy="370.7" r="2.35"/>
<circle cx="408" cy="480.3" r="2.35"/>
<circle cx="408" cy="486" r="2.35"/>
<circle cx="408" cy="489.4" r="2.35"/>
<circle cx="418.6" cy="467" r="2.35"/>
<circle cx="418.6" cy="480.1" r="2.35"/>
<circle cx="418.6" cy="489.4" r="2.35"/>
<circle cx="429.2" cy="457.9" r="2.35"/>
<circle cx="429.2" cy="489.4" r="2.35"/>
<circle cx="439.6" cy="450.7" r="2.35"/>
<circle cx="439.6" cy="489.4" r="2.35"/>
<circle cx="450.1" cy="455.8" r="2.35"/>
<circle cx="450.1" cy="489.4" r="2.35"/>
<circle cx="460.7" cy="489.4" r="2.35"/>
<circle cx="481.9" cy="489.4" r="2.35"/>
<circle cx="492.4" cy="489.4" r="2.35"/>
<circle cx="70" cy="648.6" r="2.35"/>
<circle cx="70" cy="656" r="2.35"/>
<circle cx="71.7" cy="658.8" r="2.35"/>
<circle cx="71.7" cy="659.8" r="2.35"/>
<circle cx="82.1" cy="610.7" r="2.35"/>
<circle cx="82.1" cy="645" r="2.35"/>
<circle cx="82.1" cy="653" r="2.35"/>
<circle cx="82.1" cy="657.7" r="2.35"/>
<circle cx="83.8" cy="659.8" r="2.35"/>
<circle cx="80.4" cy="659.8" r="2.35"/>
<circle cx="93.3" cy="656" r="2.35"/>
<circle cx="93.3" cy="659.8" r="2.35"/>
<circle cx="95" cy="659.8" r="2.35"/>
<circle cx="104.9" cy="649.2" r="2.35"/>
<circle cx="104.9" cy="659.8" r="2.35"/>
<circle cx="106.6" cy="659.8" r="2.35"/>
<circle cx="103.2" cy="659.8" r="2.35"/>
<circle cx="116.6" cy="643.5" r="2.35"/>
<circle cx="116.6" cy="659.8" r="2.35"/>
<circle cx="128" cy="659.8" r="2.35"/>
<circle cx="129.7" cy="659.8" r="2.35"/>
<circle cx="139.8" cy="645.4" r="2.35"/>
<circle cx="139.8" cy="659.8" r="2.35"/>
<circle cx="150.9" cy="659.8" r="2.35"/>
<circle cx="152.6" cy="659.8" r="2.35"/>
<circle cx="149.2" cy="659.8" r="2.35"/>
<circle cx="183.1" cy="584.2" r="2.35"/>
<circle cx="183.1" cy="615.5" r="2.35"/>
<circle cx="183.1" cy="621.2" r="2.35"/>
<circle cx="183.1" cy="640.9" r="2.35"/>
<circle cx="183.1" cy="646.2" r="2.35"/>
<circle cx="194.5" cy="571.7" r="2.35"/>
<circle cx="194.5" cy="620.1" r="2.35"/>
<circle cx="196.2" cy="621.8" r="2.35"/>
<circle cx="194.5" cy="634.5" r="2.35"/>
<circle cx="194.5" cy="652.9" r="2.35"/>
<circle cx="194.5" cy="659.8" r="2.35"/>
<circle cx="196.2" cy="659.8" r="2.35"/>
<circle cx="206.2" cy="593.9" r="2.35"/>
<circle cx="206.2" cy="621.8" r="2.35"/>
<circle cx="206.2" cy="638.8" r="2.35"/>
<circle cx="206.2" cy="644" r="2.35"/>
<circle cx="206.2" cy="653.6" r="2.35"/>
<circle cx="206.2" cy="659.8" r="2.35"/>
<circle cx="217.8" cy="589.7" r="2.35"/>
<circle cx="217.8" cy="645.1" r="2.35"/>
<circle cx="217.8" cy="659.8" r="2.35"/>
<circle cx="219.5" cy="659.8" r="2.35"/>
<circle cx="229" cy="659.8" r="2.35"/>
<circle cx="230.7" cy="659.8" r="2.35"/>
<circle cx="240.8" cy="659.8" r="2.35"/>
<circle cx="242.5" cy="659.8" r="2.35"/>
<circle cx="252.3" cy="646.2" r="2.35"/>
<circle cx="252.3" cy="659.8" r="2.35"/>
<circle cx="263.9" cy="629.9" r="2.35"/>
<circle cx="263.9" cy="659.8" r="2.35"/>
<circle cx="295.9" cy="566.6" r="2.35"/>
<circle cx="295.9" cy="588.8" r="2.35"/>
<circle cx="297.6" cy="588.8" r="2.35"/>
<circle cx="295.9" cy="614.8" r="2.35"/>
<circle cx="295.9" cy="631.7" r="2.35"/>
<circle cx="307.5" cy="552.8" r="2.35"/>
<circle cx="307.5" cy="561.5" r="2.35"/>
<circle cx="307.5" cy="568.3" r="2.35"/>
<circle cx="307.5" cy="593.2" r="2.35"/>
<circle cx="309.2" cy="593.2" r="2.35"/>
<circle cx="307.5" cy="608.5" r="2.35"/>
<circle cx="307.5" cy="619" r="2.35"/>
<circle cx="307.5" cy="638.1" r="2.35"/>
<circle cx="307.5" cy="641.3" r="2.35"/>
<circle cx="319.2" cy="558.8" r="2.35"/>
<circle cx="320.9" cy="558.8" r="2.35"/>
<circle cx="317.5" cy="561.5" r="2.35"/>
<circle cx="319.2" cy="571.4" r="2.35"/>
<circle cx="320.9" cy="571.4" r="2.35"/>
<circle cx="319.2" cy="623.3" r="2.35"/>
<circle cx="319.2" cy="659.8" r="2.35"/>
<circle cx="330.8" cy="565.5" r="2.35"/>
<circle cx="330.8" cy="569.3" r="2.35"/>
<circle cx="330.8" cy="578.8" r="2.35"/>
<circle cx="330.8" cy="609.5" r="2.35"/>
<circle cx="330.8" cy="621.2" r="2.35"/>
<circle cx="342" cy="585.6" r="2.35"/>
<circle cx="343.7" cy="588.4" r="2.35"/>
<circle cx="353.8" cy="559.8" r="2.35"/>
<circle cx="353.8" cy="572.5" r="2.35"/>
<circle cx="365.3" cy="594.1" r="2.35"/>
<circle cx="365.3" cy="618" r="2.35"/>
<circle cx="376.9" cy="559.4" r="2.35"/>
<circle cx="376.9" cy="572.1" r="2.35"/>
<circle cx="376.9" cy="584.1" r="2.35"/>
<circle cx="408.9" cy="643.9" r="2.35"/>
<circle cx="410.6" cy="646.7" r="2.35"/>
<circle cx="408.9" cy="650.3" r="2.35"/>
<circle cx="408.9" cy="654.5" r="2.35"/>
<circle cx="408.9" cy="658.8" r="2.35"/>
<circle cx="410.6" cy="659.8" r="2.35"/>
<circle cx="420.5" cy="622.2" r="2.35"/>
<circle cx="420.5" cy="629.8" r="2.35"/>
<circle cx="420.5" cy="646" r="2.35"/>
<circle cx="420.5" cy="659.4" r="2.35"/>
<circle cx="422.2" cy="659.8" r="2.35"/>
<circle cx="431.7" cy="608.6" r="2.35"/>
<circle cx="431.7" cy="656.6" r="2.35"/>
<circle cx="433.4" cy="656.6" r="2.35"/>
<circle cx="431.7" cy="659.8" r="2.35"/>
<circle cx="443.4" cy="659.8" r="2.35"/>
<circle cx="445.1" cy="659.8" r="2.35"/>
<circle cx="455" cy="659.8" r="2.35"/>
<circle cx="456.7" cy="659.8" r="2.35"/>
<circle cx="466.6" cy="659.8" r="2.35"/>
<circle cx="468.3" cy="659.8" r="2.35"/>
<circle cx="478.3" cy="618.6" r="2.35"/>
<circle cx="478.3" cy="659.8" r="2.35"/>
<circle cx="489.9" cy="648.2" r="2.35"/>
<circle cx="489.9" cy="658.8" r="2.35"/>
<circle cx="491.6" cy="658.8" r="2.35"/>
<circle cx="488.2" cy="659.8" r="2.35"/>
<circle cx="69" cy="829.5" r="2.35"/>
<circle cx="69" cy="832.7" r="2.35"/>
<circle cx="70.7" cy="834.1" r="2.35"/>
<circle cx="67.3" cy="834.1" r="2.35"/>
<circle cx="78.5" cy="830.2" r="2.35"/>
<circle cx="80.2" cy="832.7" r="2.35"/>
<circle cx="80.2" cy="834.1" r="2.35"/>
<circle cx="76.8" cy="834.1" r="2.35"/>
<circle cx="88" cy="823.6" r="2.35"/>
<circle cx="88" cy="832.7" r="2.35"/>
<circle cx="89.7" cy="834.1" r="2.35"/>
<circle cx="86.3" cy="834.1" r="2.35"/>
<circle cx="98" cy="829.1" r="2.35"/>
<circle cx="98" cy="832.7" r="2.35"/>
<circle cx="99.7" cy="834.1" r="2.35"/>
<circle cx="96.3" cy="834.1" r="2.35"/>
<circle cx="107.5" cy="834.1" r="2.35"/>
<circle cx="109.2" cy="834.1" r="2.35"/>
<circle cx="117.4" cy="776" r="2.35"/>
<circle cx="117.4" cy="834.1" r="2.35"/>
<circle cx="119.1" cy="834.1" r="2.35"/>
<circle cx="127.2" cy="812" r="2.35"/>
<circle cx="127.2" cy="830.6" r="2.35"/>
<circle cx="127.2" cy="834.1" r="2.35"/>
<circle cx="136.5" cy="834.1" r="2.35"/>
<circle cx="138.2" cy="834.1" r="2.35"/>
<circle cx="146.2" cy="834.1" r="2.35"/>
<circle cx="181.8" cy="735.2" r="2.35"/>
<circle cx="181.8" cy="799" r="2.35"/>
<circle cx="181.8" cy="806.4" r="2.35"/>
<circle cx="181.8" cy="813.9" r="2.35"/>
<circle cx="181.8" cy="834.1" r="2.35"/>
<circle cx="191.3" cy="740.9" r="2.35"/>
<circle cx="191.3" cy="796.9" r="2.35"/>
<circle cx="193" cy="799.5" r="2.35"/>
<circle cx="191.3" cy="805" r="2.35"/>
<circle cx="191.3" cy="823.4" r="2.35"/>
<circle cx="191.3" cy="834.1" r="2.35"/>
<circle cx="193" cy="834.1" r="2.35"/>
<circle cx="200.9" cy="767.3" r="2.35"/>
<circle cx="200.9" cy="821.9" r="2.35"/>
<circle cx="200.9" cy="826" r="2.35"/>
<circle cx="200.9" cy="829.7" r="2.35"/>
<circle cx="200.9" cy="834.1" r="2.35"/>
<circle cx="210.6" cy="821.3" r="2.35"/>
<circle cx="210.6" cy="834.1" r="2.35"/>
<circle cx="212.3" cy="834.1" r="2.35"/>
<circle cx="220.5" cy="825.9" r="2.35"/>
<circle cx="220.5" cy="834.1" r="2.35"/>
<circle cx="222.2" cy="834.1" r="2.35"/>
<circle cx="230" cy="834.1" r="2.35"/>
<circle cx="231.7" cy="834.1" r="2.35"/>
<circle cx="240" cy="812.8" r="2.35"/>
<circle cx="240" cy="824.9" r="2.35"/>
<circle cx="240" cy="834.1" r="2.35"/>
<circle cx="249.5" cy="834.1" r="2.35"/>
<circle cx="251.2" cy="834.1" r="2.35"/>
<circle cx="259" cy="834.1" r="2.35"/>
<circle cx="294.4" cy="738.4" r="2.35"/>
<circle cx="294.4" cy="750.7" r="2.35"/>
<circle cx="294.4" cy="759" r="2.35"/>
<circle cx="294.4" cy="780.1" r="2.35"/>
<circle cx="294.4" cy="834.1" r="2.35"/>
<circle cx="303.9" cy="719.4" r="2.35"/>
<circle cx="305.6" cy="722.2" r="2.35"/>
<circle cx="302.2" cy="722.2" r="2.35"/>
<circle cx="303.9" cy="754.3" r="2.35"/>
<circle cx="303.9" cy="760.2" r="2.35"/>
<circle cx="303.9" cy="766.6" r="2.35"/>
<circle cx="303.9" cy="772.3" r="2.35"/>
<circle cx="303.9" cy="778.6" r="2.35"/>
<circle cx="303.9" cy="812.5" r="2.35"/>
<circle cx="313.9" cy="720" r="2.35"/>
<circle cx="315.6" cy="720" r="2.35"/>
<circle cx="313.9" cy="725.8" r="2.35"/>
<circle cx="313.9" cy="730.6" r="2.35"/>
<circle cx="313.9" cy="763.2" r="2.35"/>
<circle cx="313.9" cy="813.5" r="2.35"/>
<circle cx="323.4" cy="719.4" r="2.35"/>
<circle cx="325.1" cy="719.4" r="2.35"/>
<circle cx="321.7" cy="722.2" r="2.35"/>
<circle cx="323.4" cy="775.9" r="2.35"/>
<circle cx="333.1" cy="725.8" r="2.35"/>
<circle cx="334.8" cy="728.5" r="2.35"/>
<circle cx="331.4" cy="728.5" r="2.35"/>
<circle cx="342.4" cy="717.9" r="2.35"/>
<circle cx="344.1" cy="720.5" r="2.35"/>
<circle cx="342.4" cy="781.8" r="2.35"/>
<circle cx="352.6" cy="733.8" r="2.35"/>
<circle cx="352.6" cy="760.2" r="2.35"/>
<circle cx="352.6" cy="770.8" r="2.35"/>
<circle cx="352.6" cy="805.1" r="2.35"/>
<circle cx="362.1" cy="717.3" r="2.35"/>
<circle cx="363.8" cy="719.4" r="2.35"/>
<circle cx="362.1" cy="727.2" r="2.35"/>
<circle cx="371.6" cy="745.4" r="2.35"/>
<circle cx="407" cy="817.8" r="2.35"/>
<circle cx="408.7" cy="817.8" r="2.35"/>
<circle cx="407" cy="834.1" r="2.35"/>
<circle cx="408.7" cy="834.1" r="2.35"/>
<circle cx="416.9" cy="787.1" r="2.35"/>
<circle cx="416.9" cy="794.5" r="2.35"/>
<circle cx="418.6" cy="797.3" r="2.35"/>
<circle cx="416.9" cy="834.1" r="2.35"/>
<circle cx="418.6" cy="834.1" r="2.35"/>
<circle cx="415.2" cy="834.1" r="2.35"/>
<circle cx="426.4" cy="738.5" r="2.35"/>
<circle cx="426.4" cy="800.9" r="2.35"/>
<circle cx="426.4" cy="834.1" r="2.35"/>
<circle cx="428.1" cy="834.1" r="2.35"/>
<circle cx="436.4" cy="779.7" r="2.35"/>
<circle cx="436.4" cy="834.1" r="2.35"/>
<circle cx="438.1" cy="834.1" r="2.35"/>
<circle cx="445.5" cy="832.5" r="2.35"/>
<circle cx="447.2" cy="834.1" r="2.35"/>
<circle cx="443.8" cy="834.1" r="2.35"/>
<circle cx="455.4" cy="834.1" r="2.35"/>
<circle cx="457.1" cy="834.1" r="2.35"/>
<circle cx="465.2" cy="790.7" r="2.35"/>
<circle cx="465.2" cy="834.1" r="2.35"/>
<circle cx="466.9" cy="834.1" r="2.35"/>
<circle cx="474.5" cy="834.1" r="2.35"/>
<circle cx="476.2" cy="834.1" r="2.35"/>
<circle cx="484.6" cy="834.1" r="2.35"/></g>
<g><text x="8.6" y="20.9" font-size="14" font-weight="bold" fill="#0a0a0a">A</text>
<text transform="translate(72.3,154.6) rotate(-45) scale(0.76,1)" font-size="8.6" fill="#333333" stroke="#333333" stroke-width="0.22" text-anchor="end">5</text>
<text transform="translate(81.5,154.6) rotate(-45) scale(0.76,1)" font-size="8.6" fill="#333333" stroke="#333333" stroke-width="0.22" text-anchor="end">7</text>
<text transform="translate(90.7,154.6) rotate(-45) scale(0.76,1)" font-size="8.6" fill="#333333" stroke="#333333" stroke-width="0.22" text-anchor="end">14</text>
<text transform="translate(99.9,154.6) rotate(-45) scale(0.76,1)" font-size="8.6" fill="#333333" stroke="#333333" stroke-width="0.22" text-anchor="end">28</text>
<text transform="translate(109.1,154.6) rotate(-45) scale(0.76,1)" font-size="8.6" fill="#333333" stroke="#333333" stroke-width="0.22" text-anchor="end">42</text>
<text transform="translate(118.3,154.6) rotate(-45) scale(0.76,1)" font-size="8.6" fill="#333333" stroke="#333333" stroke-width="0.22" text-anchor="end">56</text>
<text transform="translate(127.5,154.6) rotate(-45) scale(0.76,1)" font-size="8.6" fill="#333333" stroke="#333333" stroke-width="0.22" text-anchor="end">70</text>
<text transform="translate(136.7,154.6) rotate(-45) scale(0.76,1)" font-size="8.6" fill="#333333" stroke="#333333" stroke-width="0.22" text-anchor="end">84</text>
<text transform="translate(145.9,154.6) rotate(-45) scale(0.76,1)" font-size="8.6" fill="#333333" stroke="#333333" stroke-width="0.22" text-anchor="end">180</text>
<text transform="translate(155.1,154.6) rotate(-45) scale(0.76,1)" font-size="8.6" fill="#333333" stroke="#333333" stroke-width="0.22" text-anchor="end">270</text>
<text transform="translate(170.4,154.6) rotate(-45) scale(0.76,1)" font-size="8.6" fill="#333333" stroke="#333333" stroke-width="0.22" text-anchor="end">5</text>
<text transform="translate(179.6,154.6) rotate(-45) scale(0.76,1)" font-size="8.6" fill="#333333" stroke="#333333" stroke-width="0.22" text-anchor="end">7</text>
<text transform="translate(188.8,154.6) rotate(-45) scale(0.76,1)" font-size="8.6" fill="#333333" stroke="#333333" stroke-width="0.22" text-anchor="end">14</text>
<text transform="translate(198.3,154.6) rotate(-45) scale(0.76,1)" font-size="8.6" fill="#333333" stroke="#333333" stroke-width="0.22" text-anchor="end">28</text>
<text transform="translate(207.5,154.6) rotate(-45) scale(0.76,1)" font-size="8.6" fill="#333333" stroke="#333333" stroke-width="0.22" text-anchor="end">42</text>
<text transform="translate(216.6,154.6) rotate(-45) scale(0.76,1)" font-size="8.6" fill="#333333" stroke="#333333" stroke-width="0.22" text-anchor="end">56</text>
<text transform="translate(225.6,154.6) rotate(-45) scale(0.76,1)" font-size="8.6" fill="#333333" stroke="#333333" stroke-width="0.22" text-anchor="end">70</text>
<text transform="translate(235.1,154.6) rotate(-45) scale(0.76,1)" font-size="8.6" fill="#333333" stroke="#333333" stroke-width="0.22" text-anchor="end">84</text>
<text transform="translate(244.2,154.6) rotate(-45) scale(0.76,1)" font-size="8.6" fill="#333333" stroke="#333333" stroke-width="0.22" text-anchor="end">180</text>
<text transform="translate(253.6,154.6) rotate(-45) scale(0.76,1)" font-size="8.6" fill="#333333" stroke="#333333" stroke-width="0.22" text-anchor="end">270</text>
<text x="54.9" y="145.5" font-size="8.6" fill="#333333" text-anchor="end" textLength="4.2" lengthAdjust="spacingAndGlyphs">0</text>
<text x="54.9" y="121.7" font-size="8.6" fill="#333333" text-anchor="end" textLength="8.4" lengthAdjust="spacingAndGlyphs">20</text>
<text x="54.9" y="97.9" font-size="8.6" fill="#333333" text-anchor="end" textLength="8.4" lengthAdjust="spacingAndGlyphs">40</text>
<text x="54.9" y="74.1" font-size="8.6" fill="#333333" text-anchor="end" textLength="8.4" lengthAdjust="spacingAndGlyphs">60</text>
<text x="54.9" y="50.3" font-size="8.6" fill="#333333" text-anchor="end" textLength="8.4" lengthAdjust="spacingAndGlyphs">80</text>
<text x="54.9" y="26.5" font-size="8.6" fill="#333333" text-anchor="end" textLength="12.6" lengthAdjust="spacingAndGlyphs">100</text>
<text x="110.6" y="26.5" font-size="8.5" fill="#333333" stroke="#333333" stroke-width="0.12" text-anchor="middle" textLength="43.91" lengthAdjust="spacingAndGlyphs">CD4+ CAR+</text>
<text x="208.7" y="26.5" font-size="8.5" fill="#333333" stroke="#333333" stroke-width="0.12" text-anchor="middle" textLength="43.91" lengthAdjust="spacingAndGlyphs">CD8+ CAR+</text>
<text transform="translate(34.8,81.6) rotate(-90)" font-size="10.5" fill="#333333" stroke="#333333" stroke-width="0.2" text-anchor="middle" textLength="73.5" lengthAdjust="spacingAndGlyphs">% CD3+ CAR+ cells</text>
<text x="158.4" y="174.2" font-size="10.4" fill="#333333" stroke="#333333" stroke-width="0.2" text-anchor="middle" textLength="153" lengthAdjust="spacingAndGlyphs">Days post-infusion CD19-CAR-Retro_ALLO</text>
<text transform="translate(305.8,154.6) rotate(-45) scale(0.78,1)" font-size="8.6" fill="#333333" stroke="#333333" stroke-width="0.22" text-anchor="end">5</text>
<text transform="translate(314.8,154.6) rotate(-45) scale(0.78,1)" font-size="8.6" fill="#333333" stroke="#333333" stroke-width="0.22" text-anchor="end">7</text>
<text transform="translate(323.8,154.6) rotate(-45) scale(0.78,1)" font-size="8.6" fill="#333333" stroke="#333333" stroke-width="0.22" text-anchor="end">14</text>
<text transform="translate(332.8,154.6) rotate(-45) scale(0.78,1)" font-size="8.6" fill="#333333" stroke="#333333" stroke-width="0.22" text-anchor="end">28</text>
<text transform="translate(341.8,154.6) rotate(-45) scale(0.78,1)" font-size="8.6" fill="#333333" stroke="#333333" stroke-width="0.22" text-anchor="end">42</text>
<text transform="translate(350.7,154.6) rotate(-45) scale(0.78,1)" font-size="8.6" fill="#333333" stroke="#333333" stroke-width="0.22" text-anchor="end">56</text>
<text transform="translate(359.8,154.6) rotate(-45) scale(0.78,1)" font-size="8.6" fill="#333333" stroke="#333333" stroke-width="0.22" text-anchor="end">70</text>
<text transform="translate(369.1,154.6) rotate(-45) scale(0.78,1)" font-size="8.6" fill="#333333" stroke="#333333" stroke-width="0.22" text-anchor="end">84</text>
<text transform="translate(378,154.6) rotate(-45) scale(0.78,1)" font-size="8.6" fill="#333333" stroke="#333333" stroke-width="0.22" text-anchor="end">180</text>
<text transform="translate(386.8,154.6) rotate(-45) scale(0.78,1)" font-size="8.6" fill="#333333" stroke="#333333" stroke-width="0.22" text-anchor="end">270</text>
<text transform="translate(396.1,154.6) rotate(-45) scale(0.78,1)" font-size="8.6" fill="#333333" stroke="#333333" stroke-width="0.22" text-anchor="end">365</text>
<text transform="translate(411.2,154.6) rotate(-45) scale(0.78,1)" font-size="8.6" fill="#333333" stroke="#333333" stroke-width="0.22" text-anchor="end">5</text>
<text transform="translate(420,154.6) rotate(-45) scale(0.78,1)" font-size="8.6" fill="#333333" stroke="#333333" stroke-width="0.22" text-anchor="end">7</text>
<text transform="translate(428.9,154.6) rotate(-45) scale(0.78,1)" font-size="8.6" fill="#333333" stroke="#333333" stroke-width="0.22" text-anchor="end">14</text>
<text transform="translate(437.8,154.6) rotate(-45) scale(0.78,1)" font-size="8.6" fill="#333333" stroke="#333333" stroke-width="0.22" text-anchor="end">28</text>
<text transform="translate(447.1,154.6) rotate(-45) scale(0.78,1)" font-size="8.6" fill="#333333" stroke="#333333" stroke-width="0.22" text-anchor="end">42</text>
<text transform="translate(456.3,154.6) rotate(-45) scale(0.78,1)" font-size="8.6" fill="#333333" stroke="#333333" stroke-width="0.22" text-anchor="end">56</text>
<text transform="translate(465.2,154.6) rotate(-45) scale(0.78,1)" font-size="8.6" fill="#333333" stroke="#333333" stroke-width="0.22" text-anchor="end">70</text>
<text transform="translate(474.1,154.6) rotate(-45) scale(0.78,1)" font-size="8.6" fill="#333333" stroke="#333333" stroke-width="0.22" text-anchor="end">84</text>
<text transform="translate(483.1,154.6) rotate(-45) scale(0.78,1)" font-size="8.6" fill="#333333" stroke="#333333" stroke-width="0.22" text-anchor="end">180</text>
<text transform="translate(492.4,154.6) rotate(-45) scale(0.78,1)" font-size="8.6" fill="#333333" stroke="#333333" stroke-width="0.22" text-anchor="end">270</text>
<text transform="translate(501.3,154.6) rotate(-45) scale(0.78,1)" font-size="8.6" fill="#333333" stroke="#333333" stroke-width="0.22" text-anchor="end">365</text>
<text x="288.7" y="145.5" font-size="8.6" fill="#333333" text-anchor="end" textLength="4.2" lengthAdjust="spacingAndGlyphs">0</text>
<text x="288.7" y="121.85" font-size="8.6" fill="#333333" text-anchor="end" textLength="8.4" lengthAdjust="spacingAndGlyphs">20</text>
<text x="288.7" y="98.2" font-size="8.6" fill="#333333" text-anchor="end" textLength="8.4" lengthAdjust="spacingAndGlyphs">40</text>
<text x="288.7" y="74.55" font-size="8.6" fill="#333333" text-anchor="end" textLength="8.4" lengthAdjust="spacingAndGlyphs">60</text>
<text x="288.7" y="50.9" font-size="8.6" fill="#333333" text-anchor="end" textLength="8.4" lengthAdjust="spacingAndGlyphs">80</text>
<text x="288.7" y="27.25" font-size="8.6" fill="#333333" text-anchor="end" textLength="12.6" lengthAdjust="spacingAndGlyphs">100</text>
<text x="347" y="26.5" font-size="8.5" fill="#333333" stroke="#333333" stroke-width="0.12" text-anchor="middle" textLength="43.91" lengthAdjust="spacingAndGlyphs">CD4+ CAR+</text>
<text x="453.2" y="26.5" font-size="8.5" fill="#333333" stroke="#333333" stroke-width="0.12" text-anchor="middle" textLength="43.91" lengthAdjust="spacingAndGlyphs">CD8+ CAR+</text>
<text transform="translate(268.6,80.8) rotate(-90)" font-size="10.5" fill="#333333" stroke="#333333" stroke-width="0.2" text-anchor="middle" textLength="73.5" lengthAdjust="spacingAndGlyphs">% CD3+ CAR+ cells</text>
<text x="400" y="174.2" font-size="10.4" fill="#333333" stroke="#333333" stroke-width="0.2" text-anchor="middle" textLength="152.4" lengthAdjust="spacingAndGlyphs">Days post-infusion CD19-CAR-Lenti_ALLO</text>
<text x="8.7" y="189.2" font-size="14" font-weight="bold" fill="#0a0a0a">B</text>
<text transform="translate(74.7,325.7) rotate(-45) scale(0.87,1)" font-size="8.6" fill="#333333" stroke="#333333" stroke-width="0.22" text-anchor="end">5</text>
<text transform="translate(84.3,325.7) rotate(-45) scale(0.87,1)" font-size="8.6" fill="#333333" stroke="#333333" stroke-width="0.22" text-anchor="end">7</text>
<text transform="translate(93.7,325.7) rotate(-45) scale(0.87,1)" font-size="8.6" fill="#333333" stroke="#333333" stroke-width="0.22" text-anchor="end">14</text>
<text transform="translate(103.3,325.7) rotate(-45) scale(0.87,1)" font-size="8.6" fill="#333333" stroke="#333333" stroke-width="0.22" text-anchor="end">28</text>
<text transform="translate(112.9,325.7) rotate(-45) scale(0.87,1)" font-size="8.6" fill="#333333" stroke="#333333" stroke-width="0.22" text-anchor="end">42</text>
<text transform="translate(122.5,325.7) rotate(-45) scale(0.87,1)" font-size="8.6" fill="#333333" stroke="#333333" stroke-width="0.22" text-anchor="end">56</text>
<text transform="translate(132.1,325.7) rotate(-45) scale(0.87,1)" font-size="8.6" fill="#333333" stroke="#333333" stroke-width="0.22" text-anchor="end">70</text>
<text transform="translate(141.5,325.7) rotate(-45) scale(0.87,1)" font-size="8.6" fill="#333333" stroke="#333333" stroke-width="0.22" text-anchor="end">84</text>
<text transform="translate(151,325.7) rotate(-45) scale(0.87,1)" font-size="8.6" fill="#333333" stroke="#333333" stroke-width="0.22" text-anchor="end">180</text>
<text transform="translate(160.8,325.7) rotate(-45) scale(0.87,1)" font-size="8.6" fill="#333333" stroke="#333333" stroke-width="0.22" text-anchor="end">270</text>
<text transform="translate(176.6,325.7) rotate(-45) scale(0.87,1)" font-size="8.6" fill="#333333" stroke="#333333" stroke-width="0.22" text-anchor="end">5</text>
<text transform="translate(186.2,325.7) rotate(-45) scale(0.87,1)" font-size="8.6" fill="#333333" stroke="#333333" stroke-width="0.22" text-anchor="end">7</text>
<text transform="translate(195.8,325.7) rotate(-45) scale(0.87,1)" font-size="8.6" fill="#333333" stroke="#333333" stroke-width="0.22" text-anchor="end">14</text>
<text transform="translate(205.3,325.7) rotate(-45) scale(0.87,1)" font-size="8.6" fill="#333333" stroke="#333333" stroke-width="0.22" text-anchor="end">28</text>
<text transform="translate(214.9,325.7) rotate(-45) scale(0.87,1)" font-size="8.6" fill="#333333" stroke="#333333" stroke-width="0.22" text-anchor="end">42</text>
<text transform="translate(224.5,325.7) rotate(-45) scale(0.87,1)" font-size="8.6" fill="#333333" stroke="#333333" stroke-width="0.22" text-anchor="end">56</text>
<text transform="translate(234.1,325.7) rotate(-45) scale(0.87,1)" font-size="8.6" fill="#333333" stroke="#333333" stroke-width="0.22" text-anchor="end">70</text>
<text transform="translate(243.7,325.7) rotate(-45) scale(0.87,1)" font-size="8.6" fill="#333333" stroke="#333333" stroke-width="0.22" text-anchor="end">84</text>
<text transform="translate(253.1,325.7) rotate(-45) scale(0.87,1)" font-size="8.6" fill="#333333" stroke="#333333" stroke-width="0.22" text-anchor="end">180</text>
<text transform="translate(262.8,325.7) rotate(-45) scale(0.87,1)" font-size="8.6" fill="#333333" stroke="#333333" stroke-width="0.22" text-anchor="end">270</text>
<text transform="translate(278.5,325.7) rotate(-45) scale(0.87,1)" font-size="8.6" fill="#333333" stroke="#333333" stroke-width="0.22" text-anchor="end">5</text>
<text transform="translate(288.1,325.7) rotate(-45) scale(0.87,1)" font-size="8.6" fill="#333333" stroke="#333333" stroke-width="0.22" text-anchor="end">7</text>
<text transform="translate(297.8,325.7) rotate(-45) scale(0.87,1)" font-size="8.6" fill="#333333" stroke="#333333" stroke-width="0.22" text-anchor="end">14</text>
<text transform="translate(307.3,325.7) rotate(-45) scale(0.87,1)" font-size="8.6" fill="#333333" stroke="#333333" stroke-width="0.22" text-anchor="end">28</text>
<text transform="translate(317,325.7) rotate(-45) scale(0.87,1)" font-size="8.6" fill="#333333" stroke="#333333" stroke-width="0.22" text-anchor="end">42</text>
<text transform="translate(326.4,325.7) rotate(-45) scale(0.87,1)" font-size="8.6" fill="#333333" stroke="#333333" stroke-width="0.22" text-anchor="end">56</text>
<text transform="translate(336,325.7) rotate(-45) scale(0.87,1)" font-size="8.6" fill="#333333" stroke="#333333" stroke-width="0.22" text-anchor="end">70</text>
<text transform="translate(345.6,325.7) rotate(-45) scale(0.87,1)" font-size="8.6" fill="#333333" stroke="#333333" stroke-width="0.22" text-anchor="end">84</text>
<text transform="translate(355.3,325.7) rotate(-45) scale(0.87,1)" font-size="8.6" fill="#333333" stroke="#333333" stroke-width="0.22" text-anchor="end">180</text>
<text transform="translate(364.9,325.7) rotate(-45) scale(0.87,1)" font-size="8.6" fill="#333333" stroke="#333333" stroke-width="0.22" text-anchor="end">270</text>
<text transform="translate(380.3,325.7) rotate(-45) scale(0.87,1)" font-size="8.6" fill="#333333" stroke="#333333" stroke-width="0.22" text-anchor="end">5</text>
<text transform="translate(389.9,325.7) rotate(-45) scale(0.87,1)" font-size="8.6" fill="#333333" stroke="#333333" stroke-width="0.22" text-anchor="end">7</text>
<text transform="translate(399.5,325.7) rotate(-45) scale(0.87,1)" font-size="8.6" fill="#333333" stroke="#333333" stroke-width="0.22" text-anchor="end">14</text>
<text transform="translate(409.1,325.7) rotate(-45) scale(0.87,1)" font-size="8.6" fill="#333333" stroke="#333333" stroke-width="0.22" text-anchor="end">28</text>
<text transform="translate(418.7,325.7) rotate(-45) scale(0.87,1)" font-size="8.6" fill="#333333" stroke="#333333" stroke-width="0.22" text-anchor="end">42</text>
<text transform="translate(428.3,325.7) rotate(-45) scale(0.87,1)" font-size="8.6" fill="#333333" stroke="#333333" stroke-width="0.22" text-anchor="end">56</text>
<text transform="translate(437.9,325.7) rotate(-45) scale(0.87,1)" font-size="8.6" fill="#333333" stroke="#333333" stroke-width="0.22" text-anchor="end">70</text>
<text transform="translate(447.5,325.7) rotate(-45) scale(0.87,1)" font-size="8.6" fill="#333333" stroke="#333333" stroke-width="0.22" text-anchor="end">84</text>
<text transform="translate(457.1,325.7) rotate(-45) scale(0.87,1)" font-size="8.6" fill="#333333" stroke="#333333" stroke-width="0.22" text-anchor="end">180</text>
<text transform="translate(466.7,325.7) rotate(-45) scale(0.87,1)" font-size="8.6" fill="#333333" stroke="#333333" stroke-width="0.22" text-anchor="end">270</text>
<text x="57.2" y="317.5" font-size="8.6" fill="#333333" text-anchor="end" textLength="4.2" lengthAdjust="spacingAndGlyphs">0</text>
<text x="57.2" y="294.5" font-size="8.6" fill="#333333" text-anchor="end" textLength="8.4" lengthAdjust="spacingAndGlyphs">20</text>
<text x="57.2" y="271.5" font-size="8.6" fill="#333333" text-anchor="end" textLength="8.4" lengthAdjust="spacingAndGlyphs">40</text>
<text x="57.2" y="248.5" font-size="8.6" fill="#333333" text-anchor="end" textLength="8.4" lengthAdjust="spacingAndGlyphs">60</text>
<text x="57.2" y="225.5" font-size="8.6" fill="#333333" text-anchor="end" textLength="8.4" lengthAdjust="spacingAndGlyphs">80</text>
<text x="57.2" y="202.5" font-size="8.6" fill="#333333" text-anchor="end" textLength="12.6" lengthAdjust="spacingAndGlyphs">100</text>
<text x="115" y="199.8" font-size="8.5" fill="#333333" stroke="#333333" stroke-width="0.12" text-anchor="middle" textLength="51.81" lengthAdjust="spacingAndGlyphs">N CD4+ CAR+</text>
<text x="216" y="199.8" font-size="8.5" fill="#333333" stroke="#333333" stroke-width="0.12" text-anchor="middle" textLength="58.39" lengthAdjust="spacingAndGlyphs">CM CD4+ CAR+</text>
<text x="317.5" y="199.8" font-size="8.5" fill="#333333" stroke="#333333" stroke-width="0.12" text-anchor="middle" textLength="57.95" lengthAdjust="spacingAndGlyphs">EM CD4+ CAR+</text>
<text x="418.8" y="199.8" font-size="8.5" fill="#333333" stroke="#333333" stroke-width="0.12" text-anchor="middle" textLength="73.32" lengthAdjust="spacingAndGlyphs">TEMRA CD4+ CAR+</text>
<text transform="translate(37.8,254.2) rotate(-90)" font-size="10.5" fill="#333333" stroke="#333333" stroke-width="0.2" text-anchor="middle" textLength="73.5" lengthAdjust="spacingAndGlyphs">% CD3+ CAR+ cells</text>
<text x="266.5" y="348.6" font-size="10.4" fill="#333333" stroke="#333333" stroke-width="0.2" text-anchor="middle" textLength="154" lengthAdjust="spacingAndGlyphs">Days post-infusion CD19-CAR-Retro_ALLO</text>
<text x="8.3" y="362" font-size="14" font-weight="bold" fill="#0a0a0a">C</text>
<text transform="translate(74.3,500.7) rotate(-45) scale(0.87,1)" font-size="8.6" fill="#333333" stroke="#333333" stroke-width="0.22" text-anchor="end">5</text>
<text transform="translate(85.3,500.7) rotate(-45) scale(0.87,1)" font-size="8.6" fill="#333333" stroke="#333333" stroke-width="0.22" text-anchor="end">7</text>
<text transform="translate(95.4,500.7) rotate(-45) scale(0.87,1)" font-size="8.6" fill="#333333" stroke="#333333" stroke-width="0.22" text-anchor="end">14</text>
<text transform="translate(106,500.7) rotate(-45) scale(0.87,1)" font-size="8.6" fill="#333333" stroke="#333333" stroke-width="0.22" text-anchor="end">28</text>
<text transform="translate(116.6,500.7) rotate(-45) scale(0.87,1)" font-size="8.6" fill="#333333" stroke="#333333" stroke-width="0.22" text-anchor="end">42</text>
<text transform="translate(127.2,500.7) rotate(-45) scale(0.87,1)" font-size="8.6" fill="#333333" stroke="#333333" stroke-width="0.22" text-anchor="end">56</text>
<text transform="translate(137.7,500.7) rotate(-45) scale(0.87,1)" font-size="8.6" fill="#333333" stroke="#333333" stroke-width="0.22" text-anchor="end">70</text>
<text transform="translate(148.3,500.7) rotate(-45) scale(0.87,1)" font-size="8.6" fill="#333333" stroke="#333333" stroke-width="0.22" text-anchor="end">84</text>
<text transform="translate(158.9,500.7) rotate(-45) scale(0.87,1)" font-size="8.6" fill="#333333" stroke="#333333" stroke-width="0.22" text-anchor="end">180</text>
<text transform="translate(169.5,500.7) rotate(-45) scale(0.87,1)" font-size="8.6" fill="#333333" stroke="#333333" stroke-width="0.22" text-anchor="end">270</text>
<text transform="translate(186.8,500.7) rotate(-45) scale(0.87,1)" font-size="8.6" fill="#333333" stroke="#333333" stroke-width="0.22" text-anchor="end">5</text>
<text transform="translate(197.3,500.7) rotate(-45) scale(0.87,1)" font-size="8.6" fill="#333333" stroke="#333333" stroke-width="0.22" text-anchor="end">7</text>
<text transform="translate(207.9,500.7) rotate(-45) scale(0.87,1)" font-size="8.6" fill="#333333" stroke="#333333" stroke-width="0.22" text-anchor="end">14</text>
<text transform="translate(218.5,500.7) rotate(-45) scale(0.87,1)" font-size="8.6" fill="#333333" stroke="#333333" stroke-width="0.22" text-anchor="end">28</text>
<text transform="translate(229.5,500.7) rotate(-45) scale(0.87,1)" font-size="8.6" fill="#333333" stroke="#333333" stroke-width="0.22" text-anchor="end">42</text>
<text transform="translate(240.1,500.7) rotate(-45) scale(0.87,1)" font-size="8.6" fill="#333333" stroke="#333333" stroke-width="0.22" text-anchor="end">56</text>
<text transform="translate(250.5,500.7) rotate(-45) scale(0.87,1)" font-size="8.6" fill="#333333" stroke="#333333" stroke-width="0.22" text-anchor="end">70</text>
<text transform="translate(260.8,500.7) rotate(-45) scale(0.87,1)" font-size="8.6" fill="#333333" stroke="#333333" stroke-width="0.22" text-anchor="end">84</text>
<text transform="translate(271.3,500.7) rotate(-45) scale(0.87,1)" font-size="8.6" fill="#333333" stroke="#333333" stroke-width="0.22" text-anchor="end">180</text>
<text transform="translate(281.8,500.7) rotate(-45) scale(0.87,1)" font-size="8.6" fill="#333333" stroke="#333333" stroke-width="0.22" text-anchor="end">270</text>
<text transform="translate(299.8,500.7) rotate(-45) scale(0.87,1)" font-size="8.6" fill="#333333" stroke="#333333" stroke-width="0.22" text-anchor="end">5</text>
<text transform="translate(310.3,500.7) rotate(-45) scale(0.87,1)" font-size="8.6" fill="#333333" stroke="#333333" stroke-width="0.22" text-anchor="end">7</text>
<text transform="translate(320.9,500.7) rotate(-45) scale(0.87,1)" font-size="8.6" fill="#333333" stroke="#333333" stroke-width="0.22" text-anchor="end">14</text>
<text transform="translate(331.5,500.7) rotate(-45) scale(0.87,1)" font-size="8.6" fill="#333333" stroke="#333333" stroke-width="0.22" text-anchor="end">28</text>
<text transform="translate(342.1,500.7) rotate(-45) scale(0.87,1)" font-size="8.6" fill="#333333" stroke="#333333" stroke-width="0.22" text-anchor="end">42</text>
<text transform="translate(352.7,500.7) rotate(-45) scale(0.87,1)" font-size="8.6" fill="#333333" stroke="#333333" stroke-width="0.22" text-anchor="end">56</text>
<text transform="translate(363.2,500.7) rotate(-45) scale(0.87,1)" font-size="8.6" fill="#333333" stroke="#333333" stroke-width="0.22" text-anchor="end">70</text>
<text transform="translate(373.8,500.7) rotate(-45) scale(0.87,1)" font-size="8.6" fill="#333333" stroke="#333333" stroke-width="0.22" text-anchor="end">84</text>
<text transform="translate(384.3,500.7) rotate(-45) scale(0.87,1)" font-size="8.6" fill="#333333" stroke="#333333" stroke-width="0.22" text-anchor="end">180</text>
<text transform="translate(394.8,500.7) rotate(-45) scale(0.87,1)" font-size="8.6" fill="#333333" stroke="#333333" stroke-width="0.22" text-anchor="end">270</text>
<text transform="translate(412.3,500.7) rotate(-45) scale(0.87,1)" font-size="8.6" fill="#333333" stroke="#333333" stroke-width="0.22" text-anchor="end">5</text>
<text transform="translate(422.9,500.7) rotate(-45) scale(0.87,1)" font-size="8.6" fill="#333333" stroke="#333333" stroke-width="0.22" text-anchor="end">7</text>
<text transform="translate(433.5,500.7) rotate(-45) scale(0.87,1)" font-size="8.6" fill="#333333" stroke="#333333" stroke-width="0.22" text-anchor="end">14</text>
<text transform="translate(443.9,500.7) rotate(-45) scale(0.87,1)" font-size="8.6" fill="#333333" stroke="#333333" stroke-width="0.22" text-anchor="end">28</text>
<text transform="translate(454.4,500.7) rotate(-45) scale(0.87,1)" font-size="8.6" fill="#333333" stroke="#333333" stroke-width="0.22" text-anchor="end">42</text>
<text transform="translate(465,500.7) rotate(-45) scale(0.87,1)" font-size="8.6" fill="#333333" stroke="#333333" stroke-width="0.22" text-anchor="end">56</text>
<text transform="translate(475.6,500.7) rotate(-45) scale(0.87,1)" font-size="8.6" fill="#333333" stroke="#333333" stroke-width="0.22" text-anchor="end">70</text>
<text transform="translate(486.2,500.7) rotate(-45) scale(0.87,1)" font-size="8.6" fill="#333333" stroke="#333333" stroke-width="0.22" text-anchor="end">84</text>
<text transform="translate(496.7,500.7) rotate(-45) scale(0.87,1)" font-size="8.6" fill="#333333" stroke="#333333" stroke-width="0.22" text-anchor="end">180</text>
<text transform="translate(507.3,500.7) rotate(-45) scale(0.87,1)" font-size="8.6" fill="#333333" stroke="#333333" stroke-width="0.22" text-anchor="end">270</text>
<text x="56.3" y="492.5" font-size="8.6" fill="#333333" text-anchor="end" textLength="4.2" lengthAdjust="spacingAndGlyphs">0</text>
<text x="56.3" y="468.6" font-size="8.6" fill="#333333" text-anchor="end" textLength="8.4" lengthAdjust="spacingAndGlyphs">20</text>
<text x="56.3" y="444.7" font-size="8.6" fill="#333333" text-anchor="end" textLength="8.4" lengthAdjust="spacingAndGlyphs">40</text>
<text x="56.3" y="420.8" font-size="8.6" fill="#333333" text-anchor="end" textLength="8.4" lengthAdjust="spacingAndGlyphs">60</text>
<text x="56.3" y="396.9" font-size="8.6" fill="#333333" text-anchor="end" textLength="8.4" lengthAdjust="spacingAndGlyphs">80</text>
<text x="56.3" y="373" font-size="8.6" fill="#333333" text-anchor="end" textLength="12.6" lengthAdjust="spacingAndGlyphs">100</text>
<text x="119" y="367.4" font-size="8.5" fill="#333333" stroke="#333333" stroke-width="0.12" text-anchor="middle" textLength="51.81" lengthAdjust="spacingAndGlyphs">N CD8+ CAR+</text>
<text x="230.3" y="367.4" font-size="8.5" fill="#333333" stroke="#333333" stroke-width="0.12" text-anchor="middle" textLength="58.39" lengthAdjust="spacingAndGlyphs">CM CD8+ CAR+</text>
<text x="343.7" y="367.4" font-size="8.5" fill="#333333" stroke="#333333" stroke-width="0.12" text-anchor="middle" textLength="57.95" lengthAdjust="spacingAndGlyphs">EM CD8+ CAR+</text>
<text x="455.4" y="367.4" font-size="8.5" fill="#333333" stroke="#333333" stroke-width="0.12" text-anchor="middle" textLength="73.32" lengthAdjust="spacingAndGlyphs">TEMRA CD8+ CAR+</text>
<text transform="translate(36.4,426.3) rotate(-90)" font-size="10.5" fill="#333333" stroke="#333333" stroke-width="0.2" text-anchor="middle" textLength="73.5" lengthAdjust="spacingAndGlyphs">% CD3+ CAR+ cells</text>
<text x="286.5" y="523.6" font-size="10.4" fill="#333333" stroke="#333333" stroke-width="0.2" text-anchor="middle" textLength="154" lengthAdjust="spacingAndGlyphs">Days post-infusion CD19-CAR-Retro_ALLO</text>
<text x="8.7" y="538" font-size="14" font-weight="bold" fill="#0a0a0a">D</text>
<text transform="translate(72.6,668.6) rotate(-45)" font-size="5.2" fill="#555" stroke="#555" stroke-width="0.12" text-anchor="end">5</text>
<text transform="translate(84.7,668.6) rotate(-45)" font-size="5.2" fill="#555" stroke="#555" stroke-width="0.12" text-anchor="end">7</text>
<text transform="translate(95.9,668.6) rotate(-45)" font-size="5.2" fill="#555" stroke="#555" stroke-width="0.12" text-anchor="end">14</text>
<text transform="translate(107.5,668.6) rotate(-45)" font-size="5.2" fill="#555" stroke="#555" stroke-width="0.12" text-anchor="end">28</text>
<text transform="translate(119.2,668.6) rotate(-45)" font-size="5.2" fill="#555" stroke="#555" stroke-width="0.12" text-anchor="end">42</text>
<text transform="translate(130.6,668.6) rotate(-45)" font-size="5.2" fill="#555" stroke="#555" stroke-width="0.12" text-anchor="end">56</text>
<text transform="translate(142.4,668.6) rotate(-45)" font-size="5.2" fill="#555" stroke="#555" stroke-width="0.12" text-anchor="end">70</text>
<text transform="translate(153.5,668.6) rotate(-45)" font-size="5.2" fill="#555" stroke="#555" stroke-width="0.12" text-anchor="end">84</text>
<text transform="translate(162,668.6) rotate(-45)" font-size="5.2" fill="#555" stroke="#555" stroke-width="0.12" text-anchor="end">180</text>
<text transform="translate(165.3,668.6) rotate(-45)" font-size="5.2" fill="#555" stroke="#555" stroke-width="0.12" text-anchor="end">270</text>
<text transform="translate(168.6,668.6) rotate(-45)" font-size="5.2" fill="#555" stroke="#555" stroke-width="0.12" text-anchor="end">365</text>
<text transform="translate(185.7,668.6) rotate(-45)" font-size="5.2" fill="#555" stroke="#555" stroke-width="0.12" text-anchor="end">5</text>
<text transform="translate(197.1,668.6) rotate(-45)" font-size="5.2" fill="#555" stroke="#555" stroke-width="0.12" text-anchor="end">7</text>
<text transform="translate(208.8,668.6) rotate(-45)" font-size="5.2" fill="#555" stroke="#555" stroke-width="0.12" text-anchor="end">14</text>
<text transform="translate(220.4,668.6) rotate(-45)" font-size="5.2" fill="#555" stroke="#555" stroke-width="0.12" text-anchor="end">28</text>
<text transform="translate(231.6,668.6) rotate(-45)" font-size="5.2" fill="#555" stroke="#555" stroke-width="0.12" text-anchor="end">42</text>
<text transform="translate(243.4,668.6) rotate(-45)" font-size="5.2" fill="#555" stroke="#555" stroke-width="0.12" text-anchor="end">56</text>
<text transform="translate(254.9,668.6) rotate(-45)" font-size="5.2" fill="#555" stroke="#555" stroke-width="0.12" text-anchor="end">70</text>
<text transform="translate(266.5,668.6) rotate(-45)" font-size="5.2" fill="#555" stroke="#555" stroke-width="0.12" text-anchor="end">84</text>
<text transform="translate(273.9,668.6) rotate(-45)" font-size="5.2" fill="#555" stroke="#555" stroke-width="0.12" text-anchor="end">180</text>
<text transform="translate(277.8,668.6) rotate(-45)" font-size="5.2" fill="#555" stroke="#555" stroke-width="0.12" text-anchor="end">270</text>
<text transform="translate(281.8,668.6) rotate(-45)" font-size="5.2" fill="#555" stroke="#555" stroke-width="0.12" text-anchor="end">365</text>
<text transform="translate(298.5,668.6) rotate(-45)" font-size="5.2" fill="#555" stroke="#555" stroke-width="0.12" text-anchor="end">5</text>
<text transform="translate(310.1,668.6) rotate(-45)" font-size="5.2" fill="#555" stroke="#555" stroke-width="0.12" text-anchor="end">7</text>
<text transform="translate(321.8,668.6) rotate(-45)" font-size="5.2" fill="#555" stroke="#555" stroke-width="0.12" text-anchor="end">14</text>
<text transform="translate(333.4,668.6) rotate(-45)" font-size="5.2" fill="#555" stroke="#555" stroke-width="0.12" text-anchor="end">28</text>
<text transform="translate(344.6,668.6) rotate(-45)" font-size="5.2" fill="#555" stroke="#555" stroke-width="0.12" text-anchor="end">42</text>
<text transform="translate(356.4,668.6) rotate(-45)" font-size="5.2" fill="#555" stroke="#555" stroke-width="0.12" text-anchor="end">56</text>
<text transform="translate(367.9,668.6) rotate(-45)" font-size="5.2" fill="#555" stroke="#555" stroke-width="0.12" text-anchor="end">70</text>
<text transform="translate(379.5,668.6) rotate(-45)" font-size="5.2" fill="#555" stroke="#555" stroke-width="0.12" text-anchor="end">84</text>
<text transform="translate(387.1,668.6) rotate(-45)" font-size="5.2" fill="#555" stroke="#555" stroke-width="0.12" text-anchor="end">180</text>
<text transform="translate(390.9,668.6) rotate(-45)" font-size="5.2" fill="#555" stroke="#555" stroke-width="0.12" text-anchor="end">270</text>
<text transform="translate(395,668.6) rotate(-45)" font-size="5.2" fill="#555" stroke="#555" stroke-width="0.12" text-anchor="end">365</text>
<text transform="translate(411.5,668.6) rotate(-45)" font-size="5.2" fill="#555" stroke="#555" stroke-width="0.12" text-anchor="end">5</text>
<text transform="translate(423.1,668.6) rotate(-45)" font-size="5.2" fill="#555" stroke="#555" stroke-width="0.12" text-anchor="end">7</text>
<text transform="translate(434.3,668.6) rotate(-45)" font-size="5.2" fill="#555" stroke="#555" stroke-width="0.12" text-anchor="end">14</text>
<text transform="translate(446,668.6) rotate(-45)" font-size="5.2" fill="#555" stroke="#555" stroke-width="0.12" text-anchor="end">28</text>
<text transform="translate(457.6,668.6) rotate(-45)" font-size="5.2" fill="#555" stroke="#555" stroke-width="0.12" text-anchor="end">42</text>
<text transform="translate(469.2,668.6) rotate(-45)" font-size="5.2" fill="#555" stroke="#555" stroke-width="0.12" text-anchor="end">56</text>
<text transform="translate(480.9,668.6) rotate(-45)" font-size="5.2" fill="#555" stroke="#555" stroke-width="0.12" text-anchor="end">70</text>
<text transform="translate(492.5,668.6) rotate(-45)" font-size="5.2" fill="#555" stroke="#555" stroke-width="0.12" text-anchor="end">84</text>
<text transform="translate(500.1,668.6) rotate(-45)" font-size="5.2" fill="#555" stroke="#555" stroke-width="0.12" text-anchor="end">180</text>
<text transform="translate(504.3,668.6) rotate(-45)" font-size="5.2" fill="#555" stroke="#555" stroke-width="0.12" text-anchor="end">270</text>
<text transform="translate(508.3,668.6) rotate(-45)" font-size="5.2" fill="#555" stroke="#555" stroke-width="0.12" text-anchor="end">365</text>
<text x="56.1" y="663" font-size="8.6" fill="#333333" text-anchor="end" textLength="4.2" lengthAdjust="spacingAndGlyphs">0</text>
<text x="56.1" y="640.65" font-size="8.6" fill="#333333" text-anchor="end" textLength="8.4" lengthAdjust="spacingAndGlyphs">20</text>
<text x="56.1" y="618.3" font-size="8.6" fill="#333333" text-anchor="end" textLength="8.4" lengthAdjust="spacingAndGlyphs">40</text>
<text x="56.1" y="595.95" font-size="8.6" fill="#333333" text-anchor="end" textLength="8.4" lengthAdjust="spacingAndGlyphs">60</text>
<text x="56.1" y="573.6" font-size="8.6" fill="#333333" text-anchor="end" textLength="8.4" lengthAdjust="spacingAndGlyphs">80</text>
<text x="56.1" y="551.25" font-size="8.6" fill="#333333" text-anchor="end" textLength="12.6" lengthAdjust="spacingAndGlyphs">100</text>
<text x="120.3" y="543.5" font-size="8.5" fill="#333333" stroke="#333333" stroke-width="0.12" text-anchor="middle" textLength="51.81" lengthAdjust="spacingAndGlyphs">N CD4+ CAR+</text>
<text x="233.7" y="543.5" font-size="8.5" fill="#333333" stroke="#333333" stroke-width="0.12" text-anchor="middle" textLength="58.39" lengthAdjust="spacingAndGlyphs">CM CD4+ CAR+</text>
<text x="346.2" y="543.5" font-size="8.5" fill="#333333" stroke="#333333" stroke-width="0.12" text-anchor="middle" textLength="57.95" lengthAdjust="spacingAndGlyphs">EM CD4+ CAR+</text>
<text x="458.7" y="543.5" font-size="8.5" fill="#333333" stroke="#333333" stroke-width="0.12" text-anchor="middle" textLength="73.32" lengthAdjust="spacingAndGlyphs">TEMRA CD4+ CAR+</text>
<text transform="translate(36.4,601.3) rotate(-90)" font-size="10.5" fill="#333333" stroke="#333333" stroke-width="0.2" text-anchor="middle" textLength="73.5" lengthAdjust="spacingAndGlyphs">% CD3+ CAR+ cells</text>
<text x="286.5" y="687.8" font-size="10.4" fill="#333333" stroke="#333333" stroke-width="0.2" text-anchor="middle" textLength="154" lengthAdjust="spacingAndGlyphs">Days post-infusion CD19-CAR-Lenti_ALLO</text>
<text x="8.8" y="701.4" font-size="14" font-weight="bold" fill="#0a0a0a">E</text>
<text transform="translate(73.3,845.4) rotate(-45) scale(0.95,1)" font-size="8.6" fill="#333333" stroke="#333333" stroke-width="0.22" text-anchor="end">5</text>
<text transform="translate(82.8,845.4) rotate(-45) scale(0.95,1)" font-size="8.6" fill="#333333" stroke="#333333" stroke-width="0.22" text-anchor="end">7</text>
<text transform="translate(92.3,845.4) rotate(-45) scale(0.95,1)" font-size="8.6" fill="#333333" stroke="#333333" stroke-width="0.22" text-anchor="end">14</text>
<text transform="translate(102.3,845.4) rotate(-45) scale(0.95,1)" font-size="8.6" fill="#333333" stroke="#333333" stroke-width="0.22" text-anchor="end">28</text>
<text transform="translate(111.8,845.4) rotate(-45) scale(0.95,1)" font-size="8.6" fill="#333333" stroke="#333333" stroke-width="0.22" text-anchor="end">42</text>
<text transform="translate(121.7,845.4) rotate(-45) scale(0.95,1)" font-size="8.6" fill="#333333" stroke="#333333" stroke-width="0.22" text-anchor="end">56</text>
<text transform="translate(131.5,845.4) rotate(-45) scale(0.95,1)" font-size="8.6" fill="#333333" stroke="#333333" stroke-width="0.22" text-anchor="end">70</text>
<text transform="translate(140.8,845.4) rotate(-45) scale(0.95,1)" font-size="8.6" fill="#333333" stroke="#333333" stroke-width="0.22" text-anchor="end">84</text>
<text transform="translate(150.5,845.4) rotate(-45) scale(0.95,1)" font-size="8.6" fill="#333333" stroke="#333333" stroke-width="0.22" text-anchor="end">180</text>
<text transform="translate(160.2,845.4) rotate(-45) scale(0.95,1)" font-size="8.6" fill="#333333" stroke="#333333" stroke-width="0.22" text-anchor="end">270</text>
<text transform="translate(169.8,845.4) rotate(-45) scale(0.95,1)" font-size="8.6" fill="#333333" stroke="#333333" stroke-width="0.22" text-anchor="end">365</text>
<text transform="translate(186.1,845.4) rotate(-45) scale(0.95,1)" font-size="8.6" fill="#333333" stroke="#333333" stroke-width="0.22" text-anchor="end">5</text>
<text transform="translate(195.6,845.4) rotate(-45) scale(0.95,1)" font-size="8.6" fill="#333333" stroke="#333333" stroke-width="0.22" text-anchor="end">7</text>
<text transform="translate(205.2,845.4) rotate(-45) scale(0.95,1)" font-size="8.6" fill="#333333" stroke="#333333" stroke-width="0.22" text-anchor="end">14</text>
<text transform="translate(214.9,845.4) rotate(-45) scale(0.95,1)" font-size="8.6" fill="#333333" stroke="#333333" stroke-width="0.22" text-anchor="end">28</text>
<text transform="translate(224.8,845.4) rotate(-45) scale(0.95,1)" font-size="8.6" fill="#333333" stroke="#333333" stroke-width="0.22" text-anchor="end">42</text>
<text transform="translate(234.3,845.4) rotate(-45) scale(0.95,1)" font-size="8.6" fill="#333333" stroke="#333333" stroke-width="0.22" text-anchor="end">56</text>
<text transform="translate(244.3,845.4) rotate(-45) scale(0.95,1)" font-size="8.6" fill="#333333" stroke="#333333" stroke-width="0.22" text-anchor="end">70</text>
<text transform="translate(253.8,845.4) rotate(-45) scale(0.95,1)" font-size="8.6" fill="#333333" stroke="#333333" stroke-width="0.22" text-anchor="end">84</text>
<text transform="translate(263.3,845.4) rotate(-45) scale(0.95,1)" font-size="8.6" fill="#333333" stroke="#333333" stroke-width="0.22" text-anchor="end">180</text>
<text transform="translate(272.6,845.4) rotate(-45) scale(0.95,1)" font-size="8.6" fill="#333333" stroke="#333333" stroke-width="0.22" text-anchor="end">270</text>
<text transform="translate(282.3,845.4) rotate(-45) scale(0.95,1)" font-size="8.6" fill="#333333" stroke="#333333" stroke-width="0.22" text-anchor="end">365</text>
<text transform="translate(298.7,845.4) rotate(-45) scale(0.95,1)" font-size="8.6" fill="#333333" stroke="#333333" stroke-width="0.22" text-anchor="end">5</text>
<text transform="translate(308.2,845.4) rotate(-45) scale(0.95,1)" font-size="8.6" fill="#333333" stroke="#333333" stroke-width="0.22" text-anchor="end">7</text>
<text transform="translate(318.2,845.4) rotate(-45) scale(0.95,1)" font-size="8.6" fill="#333333" stroke="#333333" stroke-width="0.22" text-anchor="end">14</text>
<text transform="translate(327.7,845.4) rotate(-45) scale(0.95,1)" font-size="8.6" fill="#333333" stroke="#333333" stroke-width="0.22" text-anchor="end">28</text>
<text transform="translate(337.4,845.4) rotate(-45) scale(0.95,1)" font-size="8.6" fill="#333333" stroke="#333333" stroke-width="0.22" text-anchor="end">42</text>
<text transform="translate(346.7,845.4) rotate(-45) scale(0.95,1)" font-size="8.6" fill="#333333" stroke="#333333" stroke-width="0.22" text-anchor="end">56</text>
<text transform="translate(356.9,845.4) rotate(-45) scale(0.95,1)" font-size="8.6" fill="#333333" stroke="#333333" stroke-width="0.22" text-anchor="end">70</text>
<text transform="translate(366.4,845.4) rotate(-45) scale(0.95,1)" font-size="8.6" fill="#333333" stroke="#333333" stroke-width="0.22" text-anchor="end">84</text>
<text transform="translate(375.9,845.4) rotate(-45) scale(0.95,1)" font-size="8.6" fill="#333333" stroke="#333333" stroke-width="0.22" text-anchor="end">180</text>
<text transform="translate(385.5,845.4) rotate(-45) scale(0.95,1)" font-size="8.6" fill="#333333" stroke="#333333" stroke-width="0.22" text-anchor="end">270</text>
<text transform="translate(395.3,845.4) rotate(-45) scale(0.95,1)" font-size="8.6" fill="#333333" stroke="#333333" stroke-width="0.22" text-anchor="end">365</text>
<text transform="translate(411.3,845.4) rotate(-45) scale(0.95,1)" font-size="8.6" fill="#333333" stroke="#333333" stroke-width="0.22" text-anchor="end">5</text>
<text transform="translate(421.2,845.4) rotate(-45) scale(0.95,1)" font-size="8.6" fill="#333333" stroke="#333333" stroke-width="0.22" text-anchor="end">7</text>
<text transform="translate(430.7,845.4) rotate(-45) scale(0.95,1)" font-size="8.6" fill="#333333" stroke="#333333" stroke-width="0.22" text-anchor="end">14</text>
<text transform="translate(440.7,845.4) rotate(-45) scale(0.95,1)" font-size="8.6" fill="#333333" stroke="#333333" stroke-width="0.22" text-anchor="end">28</text>
<text transform="translate(449.8,845.4) rotate(-45) scale(0.95,1)" font-size="8.6" fill="#333333" stroke="#333333" stroke-width="0.22" text-anchor="end">42</text>
<text transform="translate(459.7,845.4) rotate(-45) scale(0.95,1)" font-size="8.6" fill="#333333" stroke="#333333" stroke-width="0.22" text-anchor="end">56</text>
<text transform="translate(469.5,845.4) rotate(-45) scale(0.95,1)" font-size="8.6" fill="#333333" stroke="#333333" stroke-width="0.22" text-anchor="end">70</text>
<text transform="translate(478.8,845.4) rotate(-45) scale(0.95,1)" font-size="8.6" fill="#333333" stroke="#333333" stroke-width="0.22" text-anchor="end">84</text>
<text transform="translate(488.9,845.4) rotate(-45) scale(0.95,1)" font-size="8.6" fill="#333333" stroke="#333333" stroke-width="0.22" text-anchor="end">180</text>
<text transform="translate(498.1,845.4) rotate(-45) scale(0.95,1)" font-size="8.6" fill="#333333" stroke="#333333" stroke-width="0.22" text-anchor="end">270</text>
<text transform="translate(508,845.4) rotate(-45) scale(0.95,1)" font-size="8.6" fill="#333333" stroke="#333333" stroke-width="0.22" text-anchor="end">365</text>
<text x="56.1" y="837.2" font-size="8.6" fill="#333333" text-anchor="end" textLength="4.2" lengthAdjust="spacingAndGlyphs">0</text>
<text x="56.1" y="813.71" font-size="8.6" fill="#333333" text-anchor="end" textLength="8.4" lengthAdjust="spacingAndGlyphs">20</text>
<text x="56.1" y="790.22" font-size="8.6" fill="#333333" text-anchor="end" textLength="8.4" lengthAdjust="spacingAndGlyphs">40</text>
<text x="56.1" y="766.73" font-size="8.6" fill="#333333" text-anchor="end" textLength="8.4" lengthAdjust="spacingAndGlyphs">60</text>
<text x="56.1" y="743.24" font-size="8.6" fill="#333333" text-anchor="end" textLength="8.4" lengthAdjust="spacingAndGlyphs">80</text>
<text x="56.1" y="719.75" font-size="8.6" fill="#333333" text-anchor="end" textLength="12.6" lengthAdjust="spacingAndGlyphs">100</text>
<text x="118.3" y="707.4" font-size="8.5" fill="#333333" stroke="#333333" stroke-width="0.12" text-anchor="middle" textLength="51.81" lengthAdjust="spacingAndGlyphs">N CD8+ CAR+</text>
<text x="230" y="707.4" font-size="8.5" fill="#333333" stroke="#333333" stroke-width="0.12" text-anchor="middle" textLength="58.39" lengthAdjust="spacingAndGlyphs">CM CD8+ CAR+</text>
<text x="340" y="707.4" font-size="8.5" fill="#333333" stroke="#333333" stroke-width="0.12" text-anchor="middle" textLength="57.95" lengthAdjust="spacingAndGlyphs">EM CD8+ CAR+</text>
<text x="452.5" y="707.4" font-size="8.5" fill="#333333" stroke="#333333" stroke-width="0.12" text-anchor="middle" textLength="73.32" lengthAdjust="spacingAndGlyphs">TEMRA CD8+ CAR+</text>
<text transform="translate(36.4,772.4) rotate(-90)" font-size="10.5" fill="#333333" stroke="#333333" stroke-width="0.2" text-anchor="middle" textLength="73.5" lengthAdjust="spacingAndGlyphs">% CD3+ CAR+ cells</text>
<text x="286.5" y="867.8" font-size="10.4" fill="#333333" stroke="#333333" stroke-width="0.2" text-anchor="middle" textLength="154" lengthAdjust="spacingAndGlyphs">Days post-infusion CD19-CAR-Lenti_ALLO</text></g>
<g fill="#474747"><rect x="0" y="0" width="520" height="1"/><rect x="0" y="879" width="520" height="1"/><rect x="0" y="0" width="1" height="880"/><rect x="519" y="0" width="1" height="880"/></g>
</svg></div></body></html>
